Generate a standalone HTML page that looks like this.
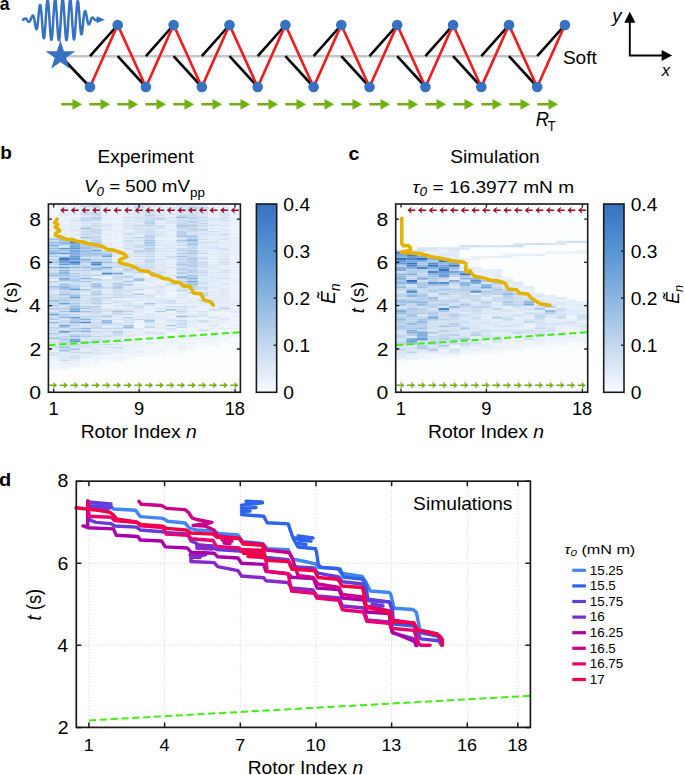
<!DOCTYPE html>
<html><head><meta charset="utf-8"><style>
html,body{margin:0;padding:0;background:#fff;}
svg{display:block;font-family:"Liberation Sans", sans-serif;}
</style></head><body>
<svg width="685" height="775" viewBox="0 0 685 775">
<defs><linearGradient id="cb" x1="0" y1="1" x2="0" y2="0">
<stop offset="0" stop-color="#f7fbff"/><stop offset="0.25" stop-color="#c4d8ee"/><stop offset="0.5" stop-color="#8ab6e0"/><stop offset="0.75" stop-color="#5894d2"/><stop offset="1" stop-color="#3771c2"/>
</linearGradient></defs>
<g transform="translate(-0.29,10.12) scale(0.8837,0.9273)"><text font-size="20" font-weight="bold">a</text></g>
<path d="M23.00,19.72 L23.19,19.66 L23.37,19.59 L23.56,19.49 L23.74,19.38 L23.93,19.26 L24.11,19.13 L24.30,19.00 L24.48,18.87 L24.67,18.76 L24.85,18.66 L25.04,18.59 L25.23,18.54 L25.41,18.53 L25.60,18.55 L25.78,18.61 L25.97,18.71 L26.15,18.87 L26.34,19.06 L26.52,19.28 L26.71,19.52 L26.89,19.78 L27.08,20.06 L27.27,20.33 L27.45,20.61 L27.64,20.88 L27.82,21.13 L28.01,21.36 L28.19,21.55 L28.38,21.71 L28.56,21.82 L28.75,21.89 L28.93,21.90 L29.12,21.86 L29.31,21.76 L29.49,21.61 L29.68,21.40 L29.86,21.14 L30.05,20.84 L30.23,20.52 L30.42,20.14 L30.60,19.72 L30.79,19.27 L30.97,18.80 L31.16,18.31 L31.35,17.84 L31.53,17.38 L31.72,16.95 L31.90,16.57 L32.09,16.24 L32.27,15.99 L32.46,15.83 L32.64,15.62 L32.83,15.49 L33.02,15.48 L33.20,15.60 L33.39,15.87 L33.57,16.28 L33.76,16.84 L33.94,17.54 L34.13,18.36 L34.31,19.30 L34.50,20.33 L34.68,21.42 L34.87,22.55 L35.06,23.69 L35.24,24.81 L35.43,25.87 L35.61,26.83 L35.80,27.67 L35.98,28.35 L36.17,28.85 L36.35,29.14 L36.54,29.20 L36.72,29.02 L36.91,28.58 L37.10,27.89 L37.28,26.95 L37.47,25.78 L37.65,24.39 L37.84,22.82 L38.02,21.09 L38.21,19.24 L38.39,17.32 L38.58,15.37 L38.76,13.45 L38.95,11.60 L39.14,9.88 L39.32,8.33 L39.51,7.01 L39.69,5.95 L39.88,5.25 L40.06,4.89 L40.25,4.88 L40.43,5.23 L40.62,5.95 L40.80,7.03 L40.99,8.44 L41.18,10.17 L41.36,12.18 L41.55,14.42 L41.73,16.85 L41.92,19.42 L42.10,22.05 L42.29,24.69 L42.47,27.28 L42.66,29.75 L42.84,32.03 L43.03,34.07 L43.22,35.79 L43.40,37.02 L43.59,37.84 L43.77,38.24 L43.96,38.20 L44.14,37.71 L44.33,36.79 L44.51,35.46 L44.70,33.75 L44.88,31.69 L45.07,29.34 L45.26,26.74 L45.44,23.96 L45.63,21.06 L45.81,18.12 L46.00,15.20 L46.18,12.37 L46.37,9.70 L46.55,7.25 L46.74,5.09 L46.92,3.26 L47.11,1.82 L47.30,0.81 L47.48,0.26 L47.67,0.17 L47.85,0.54 L48.04,1.38 L48.22,2.65 L48.41,4.33 L48.59,6.38 L48.78,8.75 L48.96,11.39 L49.15,14.23 L49.34,17.21 L49.52,20.26 L49.71,23.30 L49.89,26.26 L50.08,29.08 L50.26,31.67 L50.45,33.99 L50.63,35.98 L50.82,37.58 L51.01,38.76 L51.19,39.49 L51.38,39.75 L51.56,39.53 L51.75,38.84 L51.93,37.69 L52.12,36.11 L52.30,34.14 L52.49,31.82 L52.67,29.20 L52.86,26.36 L53.05,23.34 L53.23,20.24 L53.42,17.11 L53.60,14.04 L53.79,11.10 L53.97,8.35 L54.16,5.87 L54.34,3.71 L54.53,1.93 L54.71,0.57 L54.90,-0.34 L55.09,-0.77 L55.27,-0.70 L55.46,-0.14 L55.64,0.89 L55.83,2.37 L56.01,4.26 L56.20,6.51 L56.38,9.08 L56.57,11.91 L56.75,14.91 L56.94,18.04 L57.13,21.20 L57.31,24.32 L57.50,27.34 L57.68,30.17 L57.87,32.76 L58.05,35.03 L58.24,36.94 L58.42,38.44 L58.61,39.50 L58.79,40.08 L58.98,40.18 L59.17,39.79 L59.35,38.93 L59.54,37.60 L59.72,35.86 L59.91,33.72 L60.09,31.26 L60.28,28.52 L60.46,25.57 L60.65,22.48 L60.83,19.32 L61.02,16.18 L61.21,13.11 L61.39,10.21 L61.58,7.53 L61.76,5.14 L61.95,3.09 L62.13,1.44 L62.32,0.23 L62.50,-0.53 L62.69,-0.80 L62.87,-0.58 L63.06,0.11 L63.25,1.28 L63.43,2.88 L63.62,4.88 L63.80,7.23 L63.99,9.88 L64.17,12.77 L64.36,15.82 L64.54,18.96 L64.73,22.11 L64.91,25.21 L65.10,28.18 L65.29,30.95 L65.47,33.45 L65.66,35.63 L65.84,37.42 L66.03,38.80 L66.21,39.71 L66.40,40.16 L66.58,40.12 L66.77,39.59 L66.95,38.59 L67.14,37.14 L67.33,35.27 L67.51,33.04 L67.70,30.49 L67.88,27.68 L68.07,24.68 L68.25,21.56 L68.44,18.40 L68.62,15.27 L68.81,12.25 L68.99,9.40 L69.18,6.80 L69.37,4.50 L69.55,2.57 L69.74,1.04 L69.92,-0.04 L70.11,-0.64 L70.29,-0.73 L70.48,-0.34 L70.66,0.53 L70.85,1.85 L71.04,3.59 L71.22,5.70 L71.41,8.14 L71.59,10.84 L71.78,13.75 L71.96,16.78 L72.15,19.87 L72.33,22.95 L72.52,25.94 L72.70,28.77 L72.89,31.37 L73.08,33.69 L73.26,35.67 L73.45,37.26 L73.63,38.42 L73.82,39.14 L74.00,39.40 L74.19,39.18 L74.37,38.51 L74.56,37.39 L74.74,35.85 L74.93,33.94 L75.12,31.69 L75.30,29.16 L75.49,26.42 L75.67,23.54 L75.86,20.59 L76.04,17.63 L76.23,14.73 L76.41,11.97 L76.60,9.42 L76.78,7.11 L76.97,5.13 L77.16,3.50 L77.34,2.26 L77.53,1.44 L77.71,1.06 L77.90,1.13 L78.08,1.71 L78.27,2.78 L78.45,4.24 L78.64,6.03 L78.82,8.10 L79.01,10.39 L79.20,12.85 L79.38,15.41 L79.57,18.01 L79.75,20.59 L79.94,23.07 L80.12,25.41 L80.31,27.55 L80.49,29.45 L80.68,31.06 L80.86,32.36 L81.05,33.32 L81.24,33.92 L81.42,34.17 L81.61,34.03 L81.79,33.51 L81.98,32.68 L82.16,31.57 L82.35,30.23 L82.53,28.68 L82.72,26.99 L82.90,25.20 L83.09,23.36 L83.28,21.51 L83.46,19.71 L83.65,18.00 L83.83,16.43 L84.02,15.01 L84.20,13.79 L84.39,12.78 L84.57,12.00 L84.76,11.45 L84.94,11.15 L85.13,11.08 L85.32,11.22 L85.50,11.48 L85.69,11.92 L85.87,12.54 L86.06,13.30 L86.24,14.17 L86.43,15.14 L86.61,16.17 L86.80,17.23 L86.98,18.30 L87.17,19.34 L87.36,20.32 L87.54,21.24 L87.73,22.05 L87.91,22.76 L88.10,23.34 L88.28,23.79 L88.47,24.11 L88.65,24.29 L88.84,24.34 L89.03,24.27 L89.21,24.15 L89.40,23.93 L89.58,23.61 L89.77,23.22 L89.95,22.76 L90.14,22.26 L90.32,21.72 L90.51,21.16 L90.69,20.61 L90.88,20.07 L91.07,19.56 L91.25,19.09 L91.44,18.67 L91.62,18.32 L91.81,18.02 L91.99,17.80 L92.18,17.65 L92.36,17.57 L92.55,17.56 L92.73,17.61 L92.92,17.71 L93.11,17.83 L93.29,17.98 L93.48,18.17 L93.66,18.38 L93.85,18.61 L94.03,18.84 L94.22,19.07 L94.40,19.30 L94.59,19.50 L94.77,19.69 L94.96,19.85 L95.15,19.98 L95.33,20.09 L95.52,20.17 L95.70,20.22 L95.89,20.25 L96.07,20.25 L96.26,20.23 L96.44,20.19 L96.63,20.13 L96.81,20.06 L97.00,19.99" fill="none" stroke="#3771c2" stroke-width="2.5" stroke-linejoin="round" stroke-linecap="round"/>
<path d="M96,19.7 L97,16.3 L104.9,19.7 L97,23.1 Z" fill="#3771c2"/>
<line x1="62" y1="56.2" x2="537" y2="56.2" stroke="#c6c6c6" stroke-width="2.4"/>
<line x1="60.40" y1="56" x2="90.00" y2="87" stroke="#000" stroke-width="2.6"/>
<line x1="90.00" y1="56.2" x2="117.70" y2="25" stroke="#000" stroke-width="2.6"/>
<line x1="117.70" y1="56.2" x2="146.00" y2="87" stroke="#000" stroke-width="2.6"/>
<line x1="145.90" y1="56.2" x2="173.60" y2="25" stroke="#000" stroke-width="2.6"/>
<line x1="173.60" y1="56.2" x2="201.90" y2="87" stroke="#000" stroke-width="2.6"/>
<line x1="201.80" y1="56.2" x2="229.50" y2="25" stroke="#000" stroke-width="2.6"/>
<line x1="229.50" y1="56.2" x2="257.80" y2="87" stroke="#000" stroke-width="2.6"/>
<line x1="257.70" y1="56.2" x2="285.40" y2="25" stroke="#000" stroke-width="2.6"/>
<line x1="285.40" y1="56.2" x2="313.70" y2="87" stroke="#000" stroke-width="2.6"/>
<line x1="313.60" y1="56.2" x2="341.30" y2="25" stroke="#000" stroke-width="2.6"/>
<line x1="341.30" y1="56.2" x2="369.60" y2="87" stroke="#000" stroke-width="2.6"/>
<line x1="369.50" y1="56.2" x2="397.20" y2="25" stroke="#000" stroke-width="2.6"/>
<line x1="397.20" y1="56.2" x2="425.50" y2="87" stroke="#000" stroke-width="2.6"/>
<line x1="425.40" y1="56.2" x2="453.10" y2="25" stroke="#000" stroke-width="2.6"/>
<line x1="453.10" y1="56.2" x2="481.40" y2="87" stroke="#000" stroke-width="2.6"/>
<line x1="481.30" y1="56.2" x2="509.00" y2="25" stroke="#000" stroke-width="2.6"/>
<line x1="509.00" y1="56.2" x2="537.30" y2="87" stroke="#000" stroke-width="2.6"/>
<line x1="537.20" y1="56.2" x2="564.90" y2="25" stroke="#000" stroke-width="2.6"/>
<path d="M90.00,87 L117.70,25 L145.90,87 L173.60,25 L201.80,87 L229.50,25 L257.70,87 L285.40,25 L313.60,87 L341.30,25 L369.50,87 L397.20,25 L425.40,87 L453.10,25 L481.30,87 L509.00,25 L537.20,87 L564.90,25" fill="none" stroke="#ee1c1c" stroke-width="2.6" stroke-linejoin="miter"/>
<circle cx="90.00" cy="87" r="5.3" fill="#3771c2"/>
<circle cx="117.70" cy="25" r="5.3" fill="#3771c2"/>
<circle cx="145.90" cy="87" r="5.3" fill="#3771c2"/>
<circle cx="173.60" cy="25" r="5.3" fill="#3771c2"/>
<circle cx="201.80" cy="87" r="5.3" fill="#3771c2"/>
<circle cx="229.50" cy="25" r="5.3" fill="#3771c2"/>
<circle cx="257.70" cy="87" r="5.3" fill="#3771c2"/>
<circle cx="285.40" cy="25" r="5.3" fill="#3771c2"/>
<circle cx="313.60" cy="87" r="5.3" fill="#3771c2"/>
<circle cx="341.30" cy="25" r="5.3" fill="#3771c2"/>
<circle cx="369.50" cy="87" r="5.3" fill="#3771c2"/>
<circle cx="397.20" cy="25" r="5.3" fill="#3771c2"/>
<circle cx="425.40" cy="87" r="5.3" fill="#3771c2"/>
<circle cx="453.10" cy="25" r="5.3" fill="#3771c2"/>
<circle cx="481.30" cy="87" r="5.3" fill="#3771c2"/>
<circle cx="509.00" cy="25" r="5.3" fill="#3771c2"/>
<circle cx="537.20" cy="87" r="5.3" fill="#3771c2"/>
<circle cx="564.90" cy="25" r="5.3" fill="#3771c2"/>
<polygon points="60.40,40.30 63.93,51.15 75.33,51.15 66.11,57.85 69.63,68.70 60.40,62.00 51.17,68.70 54.69,57.85 45.47,51.15 56.87,51.15" fill="#3771c2"/>
<path d="M61.3,103.0 H72.5 V98.9 L82.1,104.3 L72.5,109.7 V105.6 H61.3 Z" fill="#73af14"/>
<path d="M89.3,103.0 H100.5 V98.9 L110.1,104.3 L100.5,109.7 V105.6 H89.3 Z" fill="#73af14"/>
<path d="M117.3,103.0 H128.5 V98.9 L138.1,104.3 L128.5,109.7 V105.6 H117.3 Z" fill="#73af14"/>
<path d="M145.3,103.0 H156.5 V98.9 L166.1,104.3 L156.5,109.7 V105.6 H145.3 Z" fill="#73af14"/>
<path d="M173.3,103.0 H184.5 V98.9 L194.1,104.3 L184.5,109.7 V105.6 H173.3 Z" fill="#73af14"/>
<path d="M201.3,103.0 H212.5 V98.9 L222.1,104.3 L212.5,109.7 V105.6 H201.3 Z" fill="#73af14"/>
<path d="M229.3,103.0 H240.5 V98.9 L250.1,104.3 L240.5,109.7 V105.6 H229.3 Z" fill="#73af14"/>
<path d="M257.3,103.0 H268.5 V98.9 L278.1,104.3 L268.5,109.7 V105.6 H257.3 Z" fill="#73af14"/>
<path d="M285.3,103.0 H296.5 V98.9 L306.1,104.3 L296.5,109.7 V105.6 H285.3 Z" fill="#73af14"/>
<path d="M313.3,103.0 H324.5 V98.9 L334.1,104.3 L324.5,109.7 V105.6 H313.3 Z" fill="#73af14"/>
<path d="M341.3,103.0 H352.5 V98.9 L362.1,104.3 L352.5,109.7 V105.6 H341.3 Z" fill="#73af14"/>
<path d="M369.3,103.0 H380.5 V98.9 L390.1,104.3 L380.5,109.7 V105.6 H369.3 Z" fill="#73af14"/>
<path d="M397.3,103.0 H408.5 V98.9 L418.1,104.3 L408.5,109.7 V105.6 H397.3 Z" fill="#73af14"/>
<path d="M425.3,103.0 H436.5 V98.9 L446.1,104.3 L436.5,109.7 V105.6 H425.3 Z" fill="#73af14"/>
<path d="M453.3,103.0 H464.5 V98.9 L474.1,104.3 L464.5,109.7 V105.6 H453.3 Z" fill="#73af14"/>
<path d="M481.3,103.0 H492.5 V98.9 L502.1,104.3 L492.5,109.7 V105.6 H481.3 Z" fill="#73af14"/>
<path d="M509.3,103.0 H520.5 V98.9 L530.1,104.3 L520.5,109.7 V105.6 H509.3 Z" fill="#73af14"/>
<path d="M537.3,103.0 H548.5 V98.9 L558.1,104.3 L548.5,109.7 V105.6 H537.3 Z" fill="#73af14"/>
<g transform="translate(562.92,63.50) scale(1.0299,1.0000)"><text font-size="18.5" >Soft</text></g>
<g transform="translate(535.76,126.08) scale(0.9846,1.0765)"><text font-size="18.5" font-style="italic">R</text><text x="12.3" y="4.2" font-size="13">T</text></g>
<g transform="translate(612.13,22.28) scale(0.9778,0.9929)"><text font-size="19" font-style="italic">y</text></g>
<g transform="translate(661.82,76.45) scale(0.9300,0.9684)"><text font-size="18" font-style="italic">x</text></g>
<path d="M629.8,56.4 V21 M628.9,55.5 H663" stroke="#000" stroke-width="1.9" fill="none"/>
<path d="M624.3,22.8 L629.8,11.8 L635.4,22.8 Z" fill="#000"/><path d="M661.6,50 L672.2,55.5 L661.6,61 Z" fill="#000"/>
<g transform="translate(0.13,159.32) scale(0.9744,0.9333)"><text font-size="19.5" font-weight="bold">b</text></g>
<g transform="translate(97.61,163.22) scale(1.0272,0.9941)"><text font-size="18.5" >Experiment</text></g>
<g transform="translate(83.94,192.30) scale(1.0736,0.9922)"><text font-size="17.5"><tspan font-style="italic">V</tspan><tspan font-style="italic" font-size="12.5" dy="3.3">0</tspan><tspan dy="-3.3"> = 500 mV</tspan><tspan font-size="12.5" dy="4.5">pp</tspan></text></g>
<rect x="48.4" y="204" width="192.0" height="188.3" fill="#fcfdff"/>
<path d="M48.4 368.76h10.67v1.57h-10.67zM48.4 235.34h10.67v1.57h-10.67zM48.4 210.22h10.67v1.57h-10.67zM48.4 207.08h10.67v1.57h-10.67zM80.4 364.05h10.67v1.57h-10.67zM112.4 359.34h10.67v1.57h-10.67zM155.1 351.49h10.67v1.57h-10.67zM165.7 338.93h10.67v1.57h-10.67zM187.1 345.21h10.67v1.57h-10.67zM187.1 334.22h10.67v1.57h-10.67zM197.7 342.07h10.67v1.57h-10.67zM208.4 345.21h10.67v1.57h-10.67zM208.4 343.64h10.67v1.57h-10.67zM229.7 335.79h10.67v1.57h-10.67zM229.7 332.65h10.67v1.57h-10.67z" fill="#f3f6fc"/>
<path d="M48.4 367.19h10.67v1.57h-10.67zM48.4 364.05h10.67v1.57h-10.67zM48.4 360.91h10.67v1.57h-10.67zM48.4 349.92h10.67v1.57h-10.67zM48.4 230.63h10.67v1.57h-10.67zM48.4 224.35h10.67v1.57h-10.67zM48.4 222.78h10.67v1.57h-10.67zM48.4 218.07h10.67v1.57h-10.67zM48.4 216.50h10.67v1.57h-10.67zM59.1 365.62h10.67v1.57h-10.67zM59.1 210.22h10.67v1.57h-10.67zM59.1 204.00h10.67v1.51h-10.67zM69.7 365.62h10.67v1.57h-10.67zM69.7 364.05h10.67v1.57h-10.67zM69.7 211.79h10.67v1.57h-10.67zM69.7 210.22h10.67v1.57h-10.67zM69.7 204.00h10.67v1.51h-10.67zM80.4 360.91h10.67v1.57h-10.67zM91.1 357.77h10.67v1.57h-10.67zM101.7 357.77h10.67v1.57h-10.67zM101.7 230.63h10.67v1.57h-10.67zM101.7 210.22h10.67v1.57h-10.67zM112.4 357.77h10.67v1.57h-10.67zM112.4 235.34h10.67v1.57h-10.67zM112.4 233.77h10.67v1.57h-10.67zM112.4 227.49h10.67v1.57h-10.67zM112.4 207.08h10.67v1.57h-10.67zM112.4 204.00h10.67v1.51h-10.67zM123.1 357.77h10.67v1.57h-10.67zM123.1 353.06h10.67v1.57h-10.67zM123.1 349.92h10.67v1.57h-10.67zM123.1 298.12h10.67v1.57h-10.67zM133.7 346.78h10.67v1.57h-10.67zM133.7 324.81h10.67v1.57h-10.67zM133.7 321.67h10.67v1.57h-10.67zM144.4 353.06h10.67v1.57h-10.67zM144.4 343.64h10.67v1.57h-10.67zM144.4 340.50h10.67v1.57h-10.67zM144.4 290.27h10.67v1.57h-10.67zM144.4 274.58h10.67v1.57h-10.67zM155.1 348.35h10.67v1.57h-10.67zM155.1 335.79h10.67v1.57h-10.67zM155.1 334.22h10.67v1.57h-10.67zM155.1 329.51h10.67v1.57h-10.67zM155.1 282.43h10.67v1.57h-10.67zM155.1 280.86h10.67v1.57h-10.67zM155.1 279.29h10.67v1.57h-10.67zM165.7 345.21h10.67v1.57h-10.67zM165.7 337.36h10.67v1.57h-10.67zM165.7 334.22h10.67v1.57h-10.67zM165.7 323.24h10.67v1.57h-10.67zM165.7 315.39h10.67v1.57h-10.67zM165.7 296.55h10.67v1.57h-10.67zM176.4 343.64h10.67v1.57h-10.67zM176.4 342.07h10.67v1.57h-10.67zM176.4 337.36h10.67v1.57h-10.67zM187.1 346.78h10.67v1.57h-10.67zM187.1 338.93h10.67v1.57h-10.67zM187.1 332.65h10.67v1.57h-10.67zM187.1 331.08h10.67v1.57h-10.67zM187.1 329.51h10.67v1.57h-10.67zM197.7 335.79h10.67v1.57h-10.67zM197.7 331.08h10.67v1.57h-10.67zM197.7 327.95h10.67v1.57h-10.67zM197.7 305.97h10.67v1.57h-10.67zM197.7 304.40h10.67v1.57h-10.67zM208.4 337.36h10.67v1.57h-10.67zM208.4 326.38h10.67v1.57h-10.67zM208.4 313.82h10.67v1.57h-10.67zM208.4 304.40h10.67v1.57h-10.67zM208.4 288.70h10.67v1.57h-10.67zM219.1 334.22h10.67v1.57h-10.67zM219.1 331.08h10.67v1.57h-10.67zM219.1 315.39h10.67v1.57h-10.67zM229.7 329.51h10.67v1.57h-10.67zM229.7 320.10h10.67v1.57h-10.67zM229.7 318.53h10.67v1.57h-10.67zM229.7 307.54h10.67v1.57h-10.67zM229.7 282.43h10.67v1.57h-10.67zM229.7 268.30h10.67v1.57h-10.67zM229.7 265.16h10.67v1.57h-10.67zM229.7 258.88h10.67v1.57h-10.67zM229.7 257.31h10.67v1.57h-10.67zM229.7 251.03h10.67v1.57h-10.67zM229.7 229.06h10.67v1.57h-10.67zM229.7 224.35h10.67v1.57h-10.67zM229.7 221.21h10.67v1.57h-10.67zM229.7 214.93h10.67v1.57h-10.67zM229.7 213.36h10.67v1.57h-10.67zM229.7 210.22h10.67v1.57h-10.67zM229.7 208.65h10.67v1.57h-10.67zM229.7 207.08h10.67v1.57h-10.67zM229.7 204.00h10.67v1.51h-10.67z" fill="#edf3fc"/>
<path d="M48.4 365.62h10.67v1.57h-10.67zM48.4 362.48h10.67v1.57h-10.67zM48.4 233.77h10.67v1.57h-10.67zM48.4 232.20h10.67v1.57h-10.67zM48.4 227.49h10.67v1.57h-10.67zM48.4 225.92h10.67v1.57h-10.67zM48.4 221.21h10.67v1.57h-10.67zM48.4 219.64h10.67v1.57h-10.67zM48.4 214.93h10.67v1.57h-10.67zM48.4 213.36h10.67v1.57h-10.67zM48.4 211.79h10.67v1.57h-10.67zM48.4 208.65h10.67v1.57h-10.67zM48.4 204.00h10.67v1.51h-10.67zM80.4 362.48h10.67v1.57h-10.67zM80.4 359.34h10.67v1.57h-10.67zM80.4 357.77h10.67v1.57h-10.67zM101.7 356.20h10.67v1.57h-10.67zM101.7 354.63h10.67v1.57h-10.67zM112.4 354.63h10.67v1.57h-10.67zM123.1 354.63h10.67v1.57h-10.67zM133.7 353.06h10.67v1.57h-10.67zM133.7 348.35h10.67v1.57h-10.67zM133.7 338.93h10.67v1.57h-10.67zM133.7 335.79h10.67v1.57h-10.67zM144.4 351.49h10.67v1.57h-10.67zM144.4 349.92h10.67v1.57h-10.67zM144.4 348.35h10.67v1.57h-10.67zM144.4 346.78h10.67v1.57h-10.67zM144.4 338.93h10.67v1.57h-10.67zM144.4 335.79h10.67v1.57h-10.67zM155.1 349.92h10.67v1.57h-10.67zM155.1 343.64h10.67v1.57h-10.67zM155.1 342.07h10.67v1.57h-10.67zM155.1 340.50h10.67v1.57h-10.67zM165.7 346.78h10.67v1.57h-10.67zM165.7 343.64h10.67v1.57h-10.67zM165.7 332.65h10.67v1.57h-10.67zM165.7 326.38h10.67v1.57h-10.67zM165.7 310.68h10.67v1.57h-10.67zM165.7 293.41h10.67v1.57h-10.67zM165.7 210.22h10.67v1.57h-10.67zM176.4 340.50h10.67v1.57h-10.67zM187.1 343.64h10.67v1.57h-10.67zM187.1 340.50h10.67v1.57h-10.67zM197.7 343.64h10.67v1.57h-10.67zM197.7 332.65h10.67v1.57h-10.67zM208.4 342.07h10.67v1.57h-10.67zM208.4 340.50h10.67v1.57h-10.67zM219.1 340.50h10.67v1.57h-10.67zM219.1 337.36h10.67v1.57h-10.67zM219.1 332.65h10.67v1.57h-10.67zM219.1 329.51h10.67v1.57h-10.67zM219.1 324.81h10.67v1.57h-10.67zM219.1 312.25h10.67v1.57h-10.67zM229.7 342.07h10.67v1.57h-10.67zM229.7 331.08h10.67v1.57h-10.67zM229.7 326.38h10.67v1.57h-10.67zM229.7 316.96h10.67v1.57h-10.67zM229.7 313.82h10.67v1.57h-10.67zM229.7 285.57h10.67v1.57h-10.67zM229.7 235.34h10.67v1.57h-10.67zM229.7 227.49h10.67v1.57h-10.67zM229.7 211.79h10.67v1.57h-10.67zM229.7 205.51h10.67v1.57h-10.67z" fill="#f0f6fc"/>
<path d="M48.4 359.34h10.67v1.57h-10.67zM48.4 205.51h10.67v1.57h-10.67zM91.1 360.91h10.67v1.57h-10.67zM91.1 359.34h10.67v1.57h-10.67zM155.1 346.78h10.67v1.57h-10.67zM165.7 291.84h10.67v1.57h-10.67zM176.4 348.35h10.67v1.57h-10.67zM176.4 338.93h10.67v1.57h-10.67zM197.7 316.96h10.67v1.57h-10.67zM219.1 335.79h10.67v1.57h-10.67zM229.7 321.67h10.67v1.57h-10.67zM229.7 294.98h10.67v1.57h-10.67z" fill="#edf6fc"/>
<path d="M48.4 357.77h10.67v1.57h-10.67zM59.1 229.06h10.67v1.57h-10.67zM59.1 225.92h10.67v1.57h-10.67zM59.1 214.93h10.67v1.57h-10.67zM59.1 213.36h10.67v1.57h-10.67zM69.7 359.34h10.67v1.57h-10.67zM69.7 353.06h10.67v1.57h-10.67zM69.7 225.92h10.67v1.57h-10.67zM69.7 222.78h10.67v1.57h-10.67zM69.7 216.50h10.67v1.57h-10.67zM69.7 208.65h10.67v1.57h-10.67zM80.4 313.82h10.67v1.57h-10.67zM101.7 349.92h10.67v1.57h-10.67zM101.7 345.21h10.67v1.57h-10.67zM101.7 332.65h10.67v1.57h-10.67zM101.7 312.25h10.67v1.57h-10.67zM101.7 288.70h10.67v1.57h-10.67zM101.7 276.15h10.67v1.57h-10.67zM101.7 222.78h10.67v1.57h-10.67zM101.7 214.93h10.67v1.57h-10.67zM112.4 349.92h10.67v1.57h-10.67zM112.4 348.35h10.67v1.57h-10.67zM112.4 302.83h10.67v1.57h-10.67zM112.4 254.17h10.67v1.57h-10.67zM123.1 340.50h10.67v1.57h-10.67zM123.1 307.54h10.67v1.57h-10.67zM123.1 282.43h10.67v1.57h-10.67zM123.1 273.01h10.67v1.57h-10.67zM123.1 262.02h10.67v1.57h-10.67zM123.1 238.48h10.67v1.57h-10.67zM133.7 329.51h10.67v1.57h-10.67zM133.7 310.68h10.67v1.57h-10.67zM133.7 298.12h10.67v1.57h-10.67zM133.7 274.58h10.67v1.57h-10.67zM144.4 276.15h10.67v1.57h-10.67zM155.1 327.95h10.67v1.57h-10.67zM155.1 318.53h10.67v1.57h-10.67zM155.1 313.82h10.67v1.57h-10.67zM155.1 298.12h10.67v1.57h-10.67zM155.1 236.91h10.67v1.57h-10.67zM155.1 205.51h10.67v1.57h-10.67zM165.7 276.15h10.67v1.57h-10.67zM165.7 271.44h10.67v1.57h-10.67zM165.7 249.46h10.67v1.57h-10.67zM165.7 240.05h10.67v1.57h-10.67zM165.7 236.91h10.67v1.57h-10.67zM165.7 218.07h10.67v1.57h-10.67zM176.4 318.53h10.67v1.57h-10.67zM187.1 335.79h10.67v1.57h-10.67zM187.1 310.68h10.67v1.57h-10.67zM197.7 204.00h10.67v1.51h-10.67zM208.4 327.95h10.67v1.57h-10.67zM208.4 291.84h10.67v1.57h-10.67zM208.4 269.87h10.67v1.57h-10.67zM208.4 268.30h10.67v1.57h-10.67zM208.4 266.73h10.67v1.57h-10.67zM208.4 254.17h10.67v1.57h-10.67zM208.4 251.03h10.67v1.57h-10.67zM208.4 243.19h10.67v1.57h-10.67zM208.4 238.48h10.67v1.57h-10.67zM208.4 232.20h10.67v1.57h-10.67zM208.4 221.21h10.67v1.57h-10.67zM219.1 302.83h10.67v1.57h-10.67zM219.1 298.12h10.67v1.57h-10.67zM219.1 291.84h10.67v1.57h-10.67zM219.1 284.00h10.67v1.57h-10.67zM219.1 241.62h10.67v1.57h-10.67zM219.1 230.63h10.67v1.57h-10.67zM219.1 225.92h10.67v1.57h-10.67zM229.7 266.73h10.67v1.57h-10.67zM229.7 243.19h10.67v1.57h-10.67zM229.7 219.64h10.67v1.57h-10.67z" fill="#e1edf6"/>
<path d="M48.4 356.20h10.67v1.57h-10.67zM59.1 360.91h10.67v1.57h-10.67zM59.1 232.20h10.67v1.57h-10.67zM59.1 224.35h10.67v1.57h-10.67zM59.1 221.21h10.67v1.57h-10.67zM59.1 207.08h10.67v1.57h-10.67zM59.1 205.51h10.67v1.57h-10.67zM69.7 362.48h10.67v1.57h-10.67zM112.4 260.45h10.67v1.57h-10.67zM112.4 249.46h10.67v1.57h-10.67zM112.4 243.19h10.67v1.57h-10.67zM112.4 236.91h10.67v1.57h-10.67zM112.4 225.92h10.67v1.57h-10.67zM112.4 216.50h10.67v1.57h-10.67zM123.1 346.78h10.67v1.57h-10.67zM123.1 214.93h10.67v1.57h-10.67zM133.7 349.92h10.67v1.57h-10.67zM133.7 343.64h10.67v1.57h-10.67zM133.7 323.24h10.67v1.57h-10.67zM144.4 273.01h10.67v1.57h-10.67zM155.1 338.93h10.67v1.57h-10.67zM155.1 331.08h10.67v1.57h-10.67zM155.1 324.81h10.67v1.57h-10.67zM155.1 315.39h10.67v1.57h-10.67zM155.1 309.11h10.67v1.57h-10.67zM155.1 296.55h10.67v1.57h-10.67zM155.1 208.65h10.67v1.57h-10.67zM165.7 340.50h10.67v1.57h-10.67zM165.7 331.08h10.67v1.57h-10.67zM165.7 312.25h10.67v1.57h-10.67zM165.7 205.51h10.67v1.57h-10.67zM176.4 334.22h10.67v1.57h-10.67zM176.4 313.82h10.67v1.57h-10.67zM187.1 342.07h10.67v1.57h-10.67zM187.1 337.36h10.67v1.57h-10.67zM187.1 323.24h10.67v1.57h-10.67zM187.1 309.11h10.67v1.57h-10.67zM187.1 304.40h10.67v1.57h-10.67zM187.1 294.98h10.67v1.57h-10.67zM197.7 337.36h10.67v1.57h-10.67zM197.7 318.53h10.67v1.57h-10.67zM197.7 301.26h10.67v1.57h-10.67zM197.7 296.55h10.67v1.57h-10.67zM208.4 315.39h10.67v1.57h-10.67zM208.4 310.68h10.67v1.57h-10.67zM208.4 213.36h10.67v1.57h-10.67zM208.4 207.08h10.67v1.57h-10.67zM219.1 240.05h10.67v1.57h-10.67zM219.1 204.00h10.67v1.51h-10.67zM229.7 309.11h10.67v1.57h-10.67zM229.7 291.84h10.67v1.57h-10.67zM229.7 284.00h10.67v1.57h-10.67zM229.7 276.15h10.67v1.57h-10.67zM229.7 254.17h10.67v1.57h-10.67z" fill="#eaf0f9"/>
<path d="M48.4 354.63h10.67v1.57h-10.67zM48.4 353.06h10.67v1.57h-10.67zM48.4 338.93h10.67v1.57h-10.67zM48.4 335.79h10.67v1.57h-10.67zM48.4 282.43h10.67v1.57h-10.67zM59.1 334.22h10.67v1.57h-10.67zM59.1 323.24h10.67v1.57h-10.67zM59.1 280.86h10.67v1.57h-10.67zM59.1 244.76h10.67v1.57h-10.67zM69.7 354.63h10.67v1.57h-10.67zM80.4 343.64h10.67v1.57h-10.67zM80.4 296.55h10.67v1.57h-10.67zM80.4 276.15h10.67v1.57h-10.67zM80.4 271.44h10.67v1.57h-10.67zM80.4 240.05h10.67v1.57h-10.67zM80.4 225.92h10.67v1.57h-10.67zM80.4 222.78h10.67v1.57h-10.67zM91.1 349.92h10.67v1.57h-10.67zM91.1 342.07h10.67v1.57h-10.67zM101.7 346.78h10.67v1.57h-10.67zM101.7 338.93h10.67v1.57h-10.67zM101.7 318.53h10.67v1.57h-10.67zM101.7 285.57h10.67v1.57h-10.67zM112.4 326.38h10.67v1.57h-10.67zM112.4 318.53h10.67v1.57h-10.67zM112.4 252.60h10.67v1.57h-10.67zM123.1 305.97h10.67v1.57h-10.67zM123.1 271.44h10.67v1.57h-10.67zM123.1 266.73h10.67v1.57h-10.67zM123.1 263.59h10.67v1.57h-10.67zM123.1 244.76h10.67v1.57h-10.67zM123.1 236.91h10.67v1.57h-10.67zM123.1 225.92h10.67v1.57h-10.67zM123.1 224.35h10.67v1.57h-10.67zM133.7 315.39h10.67v1.57h-10.67zM133.7 280.86h10.67v1.57h-10.67zM133.7 263.59h10.67v1.57h-10.67zM133.7 232.20h10.67v1.57h-10.67zM133.7 230.63h10.67v1.57h-10.67zM133.7 225.92h10.67v1.57h-10.67zM133.7 211.79h10.67v1.57h-10.67zM144.4 233.77h10.67v1.57h-10.67zM155.1 299.69h10.67v1.57h-10.67zM155.1 251.03h10.67v1.57h-10.67zM155.1 247.89h10.67v1.57h-10.67zM155.1 219.64h10.67v1.57h-10.67zM155.1 216.50h10.67v1.57h-10.67zM165.7 320.10h10.67v1.57h-10.67zM165.7 282.43h10.67v1.57h-10.67zM165.7 279.29h10.67v1.57h-10.67zM176.4 321.67h10.67v1.57h-10.67zM176.4 316.96h10.67v1.57h-10.67zM176.4 307.54h10.67v1.57h-10.67zM176.4 287.14h10.67v1.57h-10.67zM176.4 211.79h10.67v1.57h-10.67zM187.1 305.97h10.67v1.57h-10.67zM197.7 321.67h10.67v1.57h-10.67zM197.7 315.39h10.67v1.57h-10.67zM197.7 310.68h10.67v1.57h-10.67zM197.7 277.72h10.67v1.57h-10.67zM197.7 249.46h10.67v1.57h-10.67zM197.7 243.19h10.67v1.57h-10.67zM197.7 213.36h10.67v1.57h-10.67zM208.4 324.81h10.67v1.57h-10.67zM208.4 280.86h10.67v1.57h-10.67zM219.1 318.53h10.67v1.57h-10.67zM219.1 290.27h10.67v1.57h-10.67zM219.1 277.72h10.67v1.57h-10.67zM219.1 263.59h10.67v1.57h-10.67zM219.1 249.46h10.67v1.57h-10.67zM219.1 238.48h10.67v1.57h-10.67zM219.1 218.07h10.67v1.57h-10.67zM219.1 216.50h10.67v1.57h-10.67zM219.1 208.65h10.67v1.57h-10.67z" fill="#d5e4f3"/>
<path d="M48.4 351.49h10.67v1.57h-10.67zM59.1 356.20h10.67v1.57h-10.67zM69.7 342.07h10.67v1.57h-10.67zM80.4 337.36h10.67v1.57h-10.67zM80.4 221.21h10.67v1.57h-10.67zM80.4 214.93h10.67v1.57h-10.67zM91.1 353.06h10.67v1.57h-10.67zM91.1 320.10h10.67v1.57h-10.67zM91.1 233.77h10.67v1.57h-10.67zM91.1 227.49h10.67v1.57h-10.67zM101.7 313.82h10.67v1.57h-10.67zM101.7 299.69h10.67v1.57h-10.67zM123.1 331.08h10.67v1.57h-10.67zM123.1 309.11h10.67v1.57h-10.67zM123.1 293.41h10.67v1.57h-10.67zM123.1 288.70h10.67v1.57h-10.67zM123.1 241.62h10.67v1.57h-10.67zM123.1 227.49h10.67v1.57h-10.67zM123.1 219.64h10.67v1.57h-10.67zM123.1 213.36h10.67v1.57h-10.67zM133.7 307.54h10.67v1.57h-10.67zM133.7 299.69h10.67v1.57h-10.67zM144.4 331.08h10.67v1.57h-10.67zM144.4 313.82h10.67v1.57h-10.67zM144.4 287.14h10.67v1.57h-10.67zM144.4 227.49h10.67v1.57h-10.67zM155.1 287.14h10.67v1.57h-10.67zM155.1 273.01h10.67v1.57h-10.67zM155.1 241.62h10.67v1.57h-10.67zM155.1 213.36h10.67v1.57h-10.67zM165.7 274.58h10.67v1.57h-10.67zM176.4 279.29h10.67v1.57h-10.67zM176.4 205.51h10.67v1.57h-10.67zM197.7 313.82h10.67v1.57h-10.67zM197.7 285.57h10.67v1.57h-10.67zM197.7 260.45h10.67v1.57h-10.67zM197.7 221.21h10.67v1.57h-10.67zM208.4 276.15h10.67v1.57h-10.67zM208.4 246.32h10.67v1.57h-10.67zM208.4 233.77h10.67v1.57h-10.67zM219.1 282.43h10.67v1.57h-10.67zM219.1 214.93h10.67v1.57h-10.67z" fill="#d8e4f3"/>
<path d="M48.4 348.35h10.67v1.57h-10.67zM48.4 340.50h10.67v1.57h-10.67zM48.4 236.91h10.67v1.57h-10.67zM69.7 349.92h10.67v1.57h-10.67zM69.7 271.44h10.67v1.57h-10.67zM80.4 304.40h10.67v1.57h-10.67zM80.4 293.41h10.67v1.57h-10.67zM80.4 282.43h10.67v1.57h-10.67zM80.4 224.35h10.67v1.57h-10.67zM101.7 280.86h10.67v1.57h-10.67zM101.7 229.06h10.67v1.57h-10.67zM112.4 269.87h10.67v1.57h-10.67zM123.1 320.10h10.67v1.57h-10.67zM123.1 318.53h10.67v1.57h-10.67zM123.1 302.83h10.67v1.57h-10.67zM123.1 291.84h10.67v1.57h-10.67zM123.1 279.29h10.67v1.57h-10.67zM123.1 221.21h10.67v1.57h-10.67zM133.7 258.88h10.67v1.57h-10.67zM133.7 254.17h10.67v1.57h-10.67zM133.7 243.19h10.67v1.57h-10.67zM133.7 219.64h10.67v1.57h-10.67zM133.7 213.36h10.67v1.57h-10.67zM133.7 210.22h10.67v1.57h-10.67zM144.4 296.55h10.67v1.57h-10.67zM144.4 279.29h10.67v1.57h-10.67zM144.4 257.31h10.67v1.57h-10.67zM144.4 205.51h10.67v1.57h-10.67zM155.1 210.22h10.67v1.57h-10.67zM165.7 321.67h10.67v1.57h-10.67zM165.7 318.53h10.67v1.57h-10.67zM165.7 247.89h10.67v1.57h-10.67zM165.7 222.78h10.67v1.57h-10.67zM165.7 219.64h10.67v1.57h-10.67zM176.4 324.81h10.67v1.57h-10.67zM176.4 293.41h10.67v1.57h-10.67zM176.4 274.58h10.67v1.57h-10.67zM197.7 302.83h10.67v1.57h-10.67zM197.7 251.03h10.67v1.57h-10.67zM197.7 218.07h10.67v1.57h-10.67zM197.7 210.22h10.67v1.57h-10.67zM197.7 205.51h10.67v1.57h-10.67zM208.4 218.07h10.67v1.57h-10.67zM219.1 252.60h10.67v1.57h-10.67zM219.1 224.35h10.67v1.57h-10.67zM219.1 213.36h10.67v1.57h-10.67zM219.1 211.79h10.67v1.57h-10.67z" fill="#d8e7f3"/>
<path d="M48.4 346.78h10.67v1.57h-10.67zM48.4 271.44h10.67v1.57h-10.67zM48.4 268.30h10.67v1.57h-10.67zM48.4 263.59h10.67v1.57h-10.67zM59.1 359.34h10.67v1.57h-10.67zM59.1 246.32h10.67v1.57h-10.67zM69.7 268.30h10.67v1.57h-10.67zM80.4 324.81h10.67v1.57h-10.67zM80.4 294.98h10.67v1.57h-10.67zM80.4 235.34h10.67v1.57h-10.67zM80.4 213.36h10.67v1.57h-10.67zM91.1 323.24h10.67v1.57h-10.67zM91.1 321.67h10.67v1.57h-10.67zM91.1 307.54h10.67v1.57h-10.67zM91.1 224.35h10.67v1.57h-10.67zM91.1 214.93h10.67v1.57h-10.67zM101.7 343.64h10.67v1.57h-10.67zM101.7 309.11h10.67v1.57h-10.67zM101.7 293.41h10.67v1.57h-10.67zM101.7 265.16h10.67v1.57h-10.67zM123.1 321.67h10.67v1.57h-10.67zM123.1 304.40h10.67v1.57h-10.67zM123.1 232.20h10.67v1.57h-10.67zM133.7 252.60h10.67v1.57h-10.67zM155.1 332.65h10.67v1.57h-10.67zM155.1 271.44h10.67v1.57h-10.67zM155.1 258.88h10.67v1.57h-10.67zM155.1 233.77h10.67v1.57h-10.67zM176.4 312.25h10.67v1.57h-10.67zM176.4 288.70h10.67v1.57h-10.67zM176.4 218.07h10.67v1.57h-10.67zM187.1 233.77h10.67v1.57h-10.67zM197.7 329.51h10.67v1.57h-10.67zM197.7 320.10h10.67v1.57h-10.67zM197.7 291.84h10.67v1.57h-10.67zM197.7 263.59h10.67v1.57h-10.67zM208.4 316.96h10.67v1.57h-10.67zM219.1 262.02h10.67v1.57h-10.67zM219.1 219.64h10.67v1.57h-10.67z" fill="#ccdef0"/>
<path d="M48.4 345.21h10.67v1.57h-10.67zM48.4 302.83h10.67v1.57h-10.67zM80.4 299.69h10.67v1.57h-10.67zM80.4 290.27h10.67v1.57h-10.67zM80.4 229.06h10.67v1.57h-10.67zM80.4 205.51h10.67v1.57h-10.67zM91.1 324.81h10.67v1.57h-10.67zM91.1 205.51h10.67v1.57h-10.67zM101.7 279.29h10.67v1.57h-10.67zM112.4 277.72h10.67v1.57h-10.67zM112.4 266.73h10.67v1.57h-10.67zM123.1 290.27h10.67v1.57h-10.67zM133.7 266.73h10.67v1.57h-10.67zM144.4 213.36h10.67v1.57h-10.67zM165.7 284.00h10.67v1.57h-10.67zM165.7 255.74h10.67v1.57h-10.67zM176.4 208.65h10.67v1.57h-10.67zM187.1 315.39h10.67v1.57h-10.67zM187.1 214.93h10.67v1.57h-10.67zM197.7 265.16h10.67v1.57h-10.67zM197.7 257.31h10.67v1.57h-10.67zM197.7 211.79h10.67v1.57h-10.67z" fill="#c6dbed"/>
<path d="M48.4 343.64h10.67v1.57h-10.67zM48.4 320.10h10.67v1.57h-10.67zM59.1 357.77h10.67v1.57h-10.67zM59.1 351.49h10.67v1.57h-10.67zM69.7 233.77h10.67v1.57h-10.67zM69.7 230.63h10.67v1.57h-10.67zM69.7 229.06h10.67v1.57h-10.67zM69.7 224.35h10.67v1.57h-10.67zM80.4 348.35h10.67v1.57h-10.67zM91.1 304.40h10.67v1.57h-10.67zM101.7 353.06h10.67v1.57h-10.67zM101.7 337.36h10.67v1.57h-10.67zM101.7 307.54h10.67v1.57h-10.67zM101.7 291.84h10.67v1.57h-10.67zM101.7 227.49h10.67v1.57h-10.67zM112.4 342.07h10.67v1.57h-10.67zM123.1 335.79h10.67v1.57h-10.67zM123.1 299.69h10.67v1.57h-10.67zM123.1 257.31h10.67v1.57h-10.67zM123.1 255.74h10.67v1.57h-10.67zM123.1 251.03h10.67v1.57h-10.67zM123.1 249.46h10.67v1.57h-10.67zM123.1 205.51h10.67v1.57h-10.67zM133.7 309.11h10.67v1.57h-10.67zM133.7 294.98h10.67v1.57h-10.67zM133.7 285.57h10.67v1.57h-10.67zM133.7 269.87h10.67v1.57h-10.67zM133.7 260.45h10.67v1.57h-10.67zM133.7 238.48h10.67v1.57h-10.67zM133.7 208.65h10.67v1.57h-10.67zM144.4 305.97h10.67v1.57h-10.67zM144.4 299.69h10.67v1.57h-10.67zM144.4 298.12h10.67v1.57h-10.67zM155.1 337.36h10.67v1.57h-10.67zM155.1 326.38h10.67v1.57h-10.67zM155.1 288.70h10.67v1.57h-10.67zM155.1 262.02h10.67v1.57h-10.67zM155.1 243.19h10.67v1.57h-10.67zM165.7 233.77h10.67v1.57h-10.67zM176.4 346.78h10.67v1.57h-10.67zM176.4 296.55h10.67v1.57h-10.67zM176.4 284.00h10.67v1.57h-10.67zM187.1 321.67h10.67v1.57h-10.67zM187.1 316.96h10.67v1.57h-10.67zM187.1 298.12h10.67v1.57h-10.67zM197.7 268.30h10.67v1.57h-10.67zM208.4 294.98h10.67v1.57h-10.67zM208.4 279.29h10.67v1.57h-10.67zM208.4 263.59h10.67v1.57h-10.67zM208.4 240.05h10.67v1.57h-10.67zM208.4 236.91h10.67v1.57h-10.67zM208.4 235.34h10.67v1.57h-10.67zM219.1 327.95h10.67v1.57h-10.67zM219.1 288.70h10.67v1.57h-10.67zM219.1 287.14h10.67v1.57h-10.67zM219.1 257.31h10.67v1.57h-10.67zM219.1 235.34h10.67v1.57h-10.67zM219.1 222.78h10.67v1.57h-10.67zM219.1 221.21h10.67v1.57h-10.67zM229.7 236.91h10.67v1.57h-10.67z" fill="#e1eaf6"/>
<path d="M48.4 342.07h10.67v1.57h-10.67zM48.4 294.98h10.67v1.57h-10.67zM48.4 277.72h10.67v1.57h-10.67zM59.1 305.97h10.67v1.57h-10.67zM80.4 302.83h10.67v1.57h-10.67zM80.4 301.26h10.67v1.57h-10.67zM91.1 257.31h10.67v1.57h-10.67zM91.1 235.34h10.67v1.57h-10.67zM101.7 334.22h10.67v1.57h-10.67zM133.7 229.06h10.67v1.57h-10.67zM133.7 216.50h10.67v1.57h-10.67zM144.4 208.65h10.67v1.57h-10.67zM155.1 285.57h10.67v1.57h-10.67zM165.7 327.95h10.67v1.57h-10.67zM165.7 221.21h10.67v1.57h-10.67zM165.7 208.65h10.67v1.57h-10.67zM176.4 254.17h10.67v1.57h-10.67zM176.4 204.00h10.67v1.51h-10.67zM197.7 225.92h10.67v1.57h-10.67zM197.7 224.35h10.67v1.57h-10.67zM208.4 230.63h10.67v1.57h-10.67zM219.1 271.44h10.67v1.57h-10.67zM219.1 247.89h10.67v1.57h-10.67z" fill="#cfe1f0"/>
<path d="M48.4 337.36h10.67v1.57h-10.67zM59.1 310.68h10.67v1.57h-10.67zM59.1 240.05h10.67v1.57h-10.67zM69.7 287.14h10.67v1.57h-10.67zM80.4 307.54h10.67v1.57h-10.67zM80.4 246.32h10.67v1.57h-10.67zM80.4 227.49h10.67v1.57h-10.67zM91.1 279.29h10.67v1.57h-10.67zM91.1 265.16h10.67v1.57h-10.67zM144.4 271.44h10.67v1.57h-10.67zM176.4 255.74h10.67v1.57h-10.67zM176.4 240.05h10.67v1.57h-10.67zM176.4 232.20h10.67v1.57h-10.67z" fill="#9fc3e4"/>
<path d="M48.4 334.22h10.67v1.57h-10.67zM59.1 329.51h10.67v1.57h-10.67zM59.1 320.10h10.67v1.57h-10.67zM69.7 351.49h10.67v1.57h-10.67zM69.7 345.21h10.67v1.57h-10.67zM69.7 315.39h10.67v1.57h-10.67zM69.7 291.84h10.67v1.57h-10.67zM80.4 285.57h10.67v1.57h-10.67zM80.4 233.77h10.67v1.57h-10.67zM80.4 230.63h10.67v1.57h-10.67zM91.1 338.93h10.67v1.57h-10.67zM91.1 309.11h10.67v1.57h-10.67zM91.1 277.72h10.67v1.57h-10.67zM91.1 247.89h10.67v1.57h-10.67zM91.1 211.79h10.67v1.57h-10.67zM112.4 301.26h10.67v1.57h-10.67zM112.4 279.29h10.67v1.57h-10.67zM123.1 327.95h10.67v1.57h-10.67zM123.1 313.82h10.67v1.57h-10.67zM123.1 265.16h10.67v1.57h-10.67zM133.7 207.08h10.67v1.57h-10.67zM144.4 255.74h10.67v1.57h-10.67zM144.4 238.48h10.67v1.57h-10.67zM144.4 236.91h10.67v1.57h-10.67zM144.4 218.07h10.67v1.57h-10.67zM176.4 320.10h10.67v1.57h-10.67zM176.4 269.87h10.67v1.57h-10.67zM176.4 262.02h10.67v1.57h-10.67zM176.4 247.89h10.67v1.57h-10.67zM176.4 219.64h10.67v1.57h-10.67zM176.4 210.22h10.67v1.57h-10.67zM187.1 241.62h10.67v1.57h-10.67zM197.7 282.43h10.67v1.57h-10.67zM197.7 262.02h10.67v1.57h-10.67zM197.7 252.60h10.67v1.57h-10.67zM197.7 219.64h10.67v1.57h-10.67zM219.1 233.77h10.67v1.57h-10.67z" fill="#c6d8ed"/>
<path d="M48.4 332.65h10.67v1.57h-10.67zM48.4 318.53h10.67v1.57h-10.67zM48.4 287.14h10.67v1.57h-10.67zM69.7 320.10h10.67v1.57h-10.67zM80.4 288.70h10.67v1.57h-10.67zM91.1 251.03h10.67v1.57h-10.67zM101.7 271.44h10.67v1.57h-10.67zM176.4 225.92h10.67v1.57h-10.67zM187.1 257.31h10.67v1.57h-10.67z" fill="#a8c6e7"/>
<path d="M48.4 331.08h10.67v1.57h-10.67zM48.4 315.39h10.67v1.57h-10.67zM48.4 298.12h10.67v1.57h-10.67zM48.4 290.27h10.67v1.57h-10.67zM48.4 240.05h10.67v1.57h-10.67zM59.1 304.40h10.67v1.57h-10.67zM59.1 265.16h10.67v1.57h-10.67zM69.7 357.77h10.67v1.57h-10.67zM69.7 356.20h10.67v1.57h-10.67zM69.7 326.38h10.67v1.57h-10.67zM69.7 282.43h10.67v1.57h-10.67zM69.7 219.64h10.67v1.57h-10.67zM80.4 346.78h10.67v1.57h-10.67zM80.4 316.96h10.67v1.57h-10.67zM80.4 298.12h10.67v1.57h-10.67zM80.4 284.00h10.67v1.57h-10.67zM80.4 279.29h10.67v1.57h-10.67zM91.1 343.64h10.67v1.57h-10.67zM91.1 332.65h10.67v1.57h-10.67zM91.1 296.55h10.67v1.57h-10.67zM91.1 208.65h10.67v1.57h-10.67zM101.7 316.96h10.67v1.57h-10.67zM101.7 310.68h10.67v1.57h-10.67zM101.7 298.12h10.67v1.57h-10.67zM101.7 257.31h10.67v1.57h-10.67zM101.7 224.35h10.67v1.57h-10.67zM112.4 309.11h10.67v1.57h-10.67zM112.4 294.98h10.67v1.57h-10.67zM112.4 263.59h10.67v1.57h-10.67zM123.1 334.22h10.67v1.57h-10.67zM123.1 301.26h10.67v1.57h-10.67zM123.1 285.57h10.67v1.57h-10.67zM123.1 274.58h10.67v1.57h-10.67zM123.1 247.89h10.67v1.57h-10.67zM123.1 243.19h10.67v1.57h-10.67zM123.1 216.50h10.67v1.57h-10.67zM133.7 296.55h10.67v1.57h-10.67zM133.7 240.05h10.67v1.57h-10.67zM133.7 221.21h10.67v1.57h-10.67zM133.7 218.07h10.67v1.57h-10.67zM144.4 332.65h10.67v1.57h-10.67zM155.1 307.54h10.67v1.57h-10.67zM155.1 290.27h10.67v1.57h-10.67zM155.1 274.58h10.67v1.57h-10.67zM155.1 244.76h10.67v1.57h-10.67zM155.1 214.93h10.67v1.57h-10.67zM165.7 302.83h10.67v1.57h-10.67zM165.7 266.73h10.67v1.57h-10.67zM165.7 257.31h10.67v1.57h-10.67zM165.7 216.50h10.67v1.57h-10.67zM165.7 213.36h10.67v1.57h-10.67zM176.4 266.73h10.67v1.57h-10.67zM176.4 251.03h10.67v1.57h-10.67zM176.4 243.19h10.67v1.57h-10.67zM176.4 238.48h10.67v1.57h-10.67zM176.4 236.91h10.67v1.57h-10.67zM176.4 213.36h10.67v1.57h-10.67zM176.4 207.08h10.67v1.57h-10.67zM187.1 301.26h10.67v1.57h-10.67zM187.1 266.73h10.67v1.57h-10.67zM187.1 222.78h10.67v1.57h-10.67zM187.1 211.79h10.67v1.57h-10.67zM187.1 205.51h10.67v1.57h-10.67zM197.7 280.86h10.67v1.57h-10.67zM197.7 273.01h10.67v1.57h-10.67zM197.7 232.20h10.67v1.57h-10.67zM208.4 299.69h10.67v1.57h-10.67zM208.4 247.89h10.67v1.57h-10.67zM208.4 224.35h10.67v1.57h-10.67zM219.1 269.87h10.67v1.57h-10.67zM219.1 258.88h10.67v1.57h-10.67z" fill="#d2e1f3"/>
<path d="M48.4 329.51h10.67v1.57h-10.67zM48.4 305.97h10.67v1.57h-10.67zM48.4 288.70h10.67v1.57h-10.67zM48.4 276.15h10.67v1.57h-10.67zM59.1 348.35h10.67v1.57h-10.67zM59.1 332.65h10.67v1.57h-10.67zM59.1 312.25h10.67v1.57h-10.67zM69.7 290.27h10.67v1.57h-10.67zM80.4 345.21h10.67v1.57h-10.67zM80.4 320.10h10.67v1.57h-10.67zM80.4 268.30h10.67v1.57h-10.67zM80.4 232.20h10.67v1.57h-10.67zM91.1 331.08h10.67v1.57h-10.67zM91.1 318.53h10.67v1.57h-10.67zM91.1 294.98h10.67v1.57h-10.67zM91.1 238.48h10.67v1.57h-10.67zM91.1 225.92h10.67v1.57h-10.67zM91.1 219.64h10.67v1.57h-10.67zM91.1 207.08h10.67v1.57h-10.67zM101.7 335.79h10.67v1.57h-10.67zM101.7 302.83h10.67v1.57h-10.67zM101.7 296.55h10.67v1.57h-10.67zM101.7 269.87h10.67v1.57h-10.67zM112.4 346.78h10.67v1.57h-10.67zM112.4 313.82h10.67v1.57h-10.67zM112.4 312.25h10.67v1.57h-10.67zM112.4 293.41h10.67v1.57h-10.67zM123.1 296.55h10.67v1.57h-10.67zM123.1 233.77h10.67v1.57h-10.67zM133.7 265.16h10.67v1.57h-10.67zM133.7 255.74h10.67v1.57h-10.67zM133.7 246.32h10.67v1.57h-10.67zM144.4 318.53h10.67v1.57h-10.67zM144.4 268.30h10.67v1.57h-10.67zM144.4 265.16h10.67v1.57h-10.67zM144.4 246.32h10.67v1.57h-10.67zM144.4 229.06h10.67v1.57h-10.67zM144.4 211.79h10.67v1.57h-10.67zM155.1 225.92h10.67v1.57h-10.67zM165.7 305.97h10.67v1.57h-10.67zM176.4 305.97h10.67v1.57h-10.67zM176.4 260.45h10.67v1.57h-10.67zM176.4 257.31h10.67v1.57h-10.67zM176.4 241.62h10.67v1.57h-10.67zM187.1 255.74h10.67v1.57h-10.67zM187.1 230.63h10.67v1.57h-10.67zM187.1 213.36h10.67v1.57h-10.67zM197.7 294.98h10.67v1.57h-10.67zM197.7 269.87h10.67v1.57h-10.67zM197.7 238.48h10.67v1.57h-10.67zM197.7 233.77h10.67v1.57h-10.67zM208.4 309.11h10.67v1.57h-10.67z" fill="#c9dbf0"/>
<path d="M48.4 327.95h10.67v1.57h-10.67zM48.4 326.38h10.67v1.57h-10.67zM48.4 323.24h10.67v1.57h-10.67zM48.4 316.96h10.67v1.57h-10.67zM48.4 309.11h10.67v1.57h-10.67zM48.4 293.41h10.67v1.57h-10.67zM59.1 340.50h10.67v1.57h-10.67zM59.1 309.11h10.67v1.57h-10.67zM59.1 301.26h10.67v1.57h-10.67zM59.1 294.98h10.67v1.57h-10.67zM59.1 282.43h10.67v1.57h-10.67zM69.7 337.36h10.67v1.57h-10.67zM80.4 340.50h10.67v1.57h-10.67zM91.1 340.50h10.67v1.57h-10.67zM91.1 255.74h10.67v1.57h-10.67zM91.1 230.63h10.67v1.57h-10.67zM91.1 213.36h10.67v1.57h-10.67zM112.4 323.24h10.67v1.57h-10.67zM112.4 265.16h10.67v1.57h-10.67zM123.1 240.05h10.67v1.57h-10.67zM133.7 318.53h10.67v1.57h-10.67zM133.7 288.70h10.67v1.57h-10.67zM133.7 249.46h10.67v1.57h-10.67zM133.7 244.76h10.67v1.57h-10.67zM133.7 224.35h10.67v1.57h-10.67zM144.4 262.02h10.67v1.57h-10.67zM144.4 260.45h10.67v1.57h-10.67zM144.4 258.88h10.67v1.57h-10.67zM144.4 224.35h10.67v1.57h-10.67zM144.4 219.64h10.67v1.57h-10.67zM176.4 326.38h10.67v1.57h-10.67zM176.4 244.76h10.67v1.57h-10.67zM176.4 227.49h10.67v1.57h-10.67zM176.4 222.78h10.67v1.57h-10.67zM176.4 214.93h10.67v1.57h-10.67zM187.1 254.17h10.67v1.57h-10.67zM187.1 246.32h10.67v1.57h-10.67zM187.1 210.22h10.67v1.57h-10.67zM197.7 271.44h10.67v1.57h-10.67zM197.7 216.50h10.67v1.57h-10.67z" fill="#c3d8ed"/>
<path d="M48.4 324.81h10.67v1.57h-10.67zM48.4 310.68h10.67v1.57h-10.67zM48.4 291.84h10.67v1.57h-10.67zM59.1 353.06h10.67v1.57h-10.67zM59.1 318.53h10.67v1.57h-10.67zM69.7 346.78h10.67v1.57h-10.67zM69.7 312.25h10.67v1.57h-10.67zM80.4 356.20h10.67v1.57h-10.67zM80.4 353.06h10.67v1.57h-10.67zM80.4 338.93h10.67v1.57h-10.67zM80.4 323.24h10.67v1.57h-10.67zM80.4 309.11h10.67v1.57h-10.67zM80.4 238.48h10.67v1.57h-10.67zM91.1 348.35h10.67v1.57h-10.67zM91.1 337.36h10.67v1.57h-10.67zM91.1 334.22h10.67v1.57h-10.67zM91.1 313.82h10.67v1.57h-10.67zM91.1 271.44h10.67v1.57h-10.67zM91.1 221.21h10.67v1.57h-10.67zM101.7 329.51h10.67v1.57h-10.67zM101.7 324.81h10.67v1.57h-10.67zM101.7 294.98h10.67v1.57h-10.67zM101.7 290.27h10.67v1.57h-10.67zM101.7 282.43h10.67v1.57h-10.67zM101.7 274.58h10.67v1.57h-10.67zM101.7 225.92h10.67v1.57h-10.67zM112.4 343.64h10.67v1.57h-10.67zM112.4 335.79h10.67v1.57h-10.67zM112.4 324.81h10.67v1.57h-10.67zM112.4 315.39h10.67v1.57h-10.67zM112.4 305.97h10.67v1.57h-10.67zM112.4 299.69h10.67v1.57h-10.67zM112.4 280.86h10.67v1.57h-10.67zM112.4 274.58h10.67v1.57h-10.67zM123.1 312.25h10.67v1.57h-10.67zM123.1 287.14h10.67v1.57h-10.67zM123.1 260.45h10.67v1.57h-10.67zM123.1 254.17h10.67v1.57h-10.67zM123.1 252.60h10.67v1.57h-10.67zM123.1 246.32h10.67v1.57h-10.67zM133.7 327.95h10.67v1.57h-10.67zM133.7 312.25h10.67v1.57h-10.67zM133.7 290.27h10.67v1.57h-10.67zM133.7 287.14h10.67v1.57h-10.67zM133.7 284.00h10.67v1.57h-10.67zM133.7 273.01h10.67v1.57h-10.67zM133.7 262.02h10.67v1.57h-10.67zM133.7 241.62h10.67v1.57h-10.67zM133.7 233.77h10.67v1.57h-10.67zM133.7 214.93h10.67v1.57h-10.67zM144.4 324.81h10.67v1.57h-10.67zM144.4 315.39h10.67v1.57h-10.67zM144.4 269.87h10.67v1.57h-10.67zM155.1 323.24h10.67v1.57h-10.67zM155.1 316.96h10.67v1.57h-10.67zM155.1 302.83h10.67v1.57h-10.67zM155.1 301.26h10.67v1.57h-10.67zM155.1 265.16h10.67v1.57h-10.67zM155.1 263.59h10.67v1.57h-10.67zM155.1 255.74h10.67v1.57h-10.67zM155.1 252.60h10.67v1.57h-10.67zM155.1 240.05h10.67v1.57h-10.67zM155.1 235.34h10.67v1.57h-10.67zM155.1 232.20h10.67v1.57h-10.67zM155.1 230.63h10.67v1.57h-10.67zM155.1 224.35h10.67v1.57h-10.67zM165.7 254.17h10.67v1.57h-10.67zM165.7 251.03h10.67v1.57h-10.67zM165.7 243.19h10.67v1.57h-10.67zM165.7 229.06h10.67v1.57h-10.67zM165.7 207.08h10.67v1.57h-10.67zM176.4 309.11h10.67v1.57h-10.67zM176.4 302.83h10.67v1.57h-10.67zM197.7 312.25h10.67v1.57h-10.67zM197.7 284.00h10.67v1.57h-10.67zM197.7 279.29h10.67v1.57h-10.67zM197.7 276.15h10.67v1.57h-10.67zM197.7 258.88h10.67v1.57h-10.67zM197.7 255.74h10.67v1.57h-10.67zM197.7 235.34h10.67v1.57h-10.67zM197.7 227.49h10.67v1.57h-10.67zM197.7 214.93h10.67v1.57h-10.67zM197.7 208.65h10.67v1.57h-10.67zM208.4 277.72h10.67v1.57h-10.67zM208.4 273.01h10.67v1.57h-10.67zM208.4 265.16h10.67v1.57h-10.67zM208.4 219.64h10.67v1.57h-10.67zM219.1 309.11h10.67v1.57h-10.67zM219.1 305.97h10.67v1.57h-10.67zM219.1 301.26h10.67v1.57h-10.67zM219.1 294.98h10.67v1.57h-10.67zM219.1 274.58h10.67v1.57h-10.67zM219.1 268.30h10.67v1.57h-10.67zM219.1 260.45h10.67v1.57h-10.67zM219.1 254.17h10.67v1.57h-10.67zM219.1 243.19h10.67v1.57h-10.67zM219.1 236.91h10.67v1.57h-10.67zM219.1 232.20h10.67v1.57h-10.67zM219.1 229.06h10.67v1.57h-10.67zM229.7 279.29h10.67v1.57h-10.67z" fill="#dbe7f6"/>
<path d="M48.4 321.67h10.67v1.57h-10.67zM48.4 247.89h10.67v1.57h-10.67zM59.1 316.96h10.67v1.57h-10.67zM59.1 241.62h10.67v1.57h-10.67zM59.1 238.48h10.67v1.57h-10.67zM80.4 331.08h10.67v1.57h-10.67zM80.4 327.95h10.67v1.57h-10.67z" fill="#90bae1"/>
<path d="M48.4 313.82h10.67v1.57h-10.67zM69.7 338.93h10.67v1.57h-10.67zM69.7 260.45h10.67v1.57h-10.67z" fill="#6ca2d8"/>
<path d="M48.4 312.25h10.67v1.57h-10.67zM69.7 331.08h10.67v1.57h-10.67zM69.7 302.83h10.67v1.57h-10.67zM80.4 342.07h10.67v1.57h-10.67zM80.4 335.79h10.67v1.57h-10.67zM80.4 243.19h10.67v1.57h-10.67zM101.7 315.39h10.67v1.57h-10.67zM123.1 284.00h10.67v1.57h-10.67zM123.1 280.86h10.67v1.57h-10.67zM123.1 268.30h10.67v1.57h-10.67zM144.4 243.19h10.67v1.57h-10.67zM144.4 241.62h10.67v1.57h-10.67zM155.1 310.68h10.67v1.57h-10.67zM187.1 276.15h10.67v1.57h-10.67zM187.1 252.60h10.67v1.57h-10.67z" fill="#abc9e7"/>
<path d="M48.4 307.54h10.67v1.57h-10.67zM48.4 260.45h10.67v1.57h-10.67zM59.1 298.12h10.67v1.57h-10.67zM69.7 318.53h10.67v1.57h-10.67zM80.4 269.87h10.67v1.57h-10.67zM80.4 262.02h10.67v1.57h-10.67zM91.1 302.83h10.67v1.57h-10.67zM91.1 291.84h10.67v1.57h-10.67zM91.1 258.88h10.67v1.57h-10.67zM91.1 204.00h10.67v1.51h-10.67zM101.7 258.88h10.67v1.57h-10.67zM112.4 340.50h10.67v1.57h-10.67zM112.4 284.00h10.67v1.57h-10.67zM144.4 210.22h10.67v1.57h-10.67zM176.4 290.27h10.67v1.57h-10.67zM176.4 277.72h10.67v1.57h-10.67zM187.1 285.57h10.67v1.57h-10.67zM187.1 271.44h10.67v1.57h-10.67zM187.1 269.87h10.67v1.57h-10.67zM187.1 244.76h10.67v1.57h-10.67z" fill="#b4cfea"/>
<path d="M48.4 304.40h10.67v1.57h-10.67zM48.4 273.01h10.67v1.57h-10.67zM59.1 313.82h10.67v1.57h-10.67zM80.4 260.45h10.67v1.57h-10.67zM91.1 246.32h10.67v1.57h-10.67zM144.4 221.21h10.67v1.57h-10.67zM176.4 273.01h10.67v1.57h-10.67zM176.4 224.35h10.67v1.57h-10.67zM187.1 251.03h10.67v1.57h-10.67zM187.1 224.35h10.67v1.57h-10.67z" fill="#aecce7"/>
<path d="M48.4 301.26h10.67v1.57h-10.67zM48.4 255.74h10.67v1.57h-10.67zM48.4 243.19h10.67v1.57h-10.67zM91.1 260.45h10.67v1.57h-10.67z" fill="#b1cce7"/>
<path d="M48.4 299.69h10.67v1.57h-10.67zM59.1 273.01h10.67v1.57h-10.67zM69.7 279.29h10.67v1.57h-10.67zM69.7 266.73h10.67v1.57h-10.67zM112.4 287.14h10.67v1.57h-10.67z" fill="#8db7e1"/>
<path d="M48.4 296.55h10.67v1.57h-10.67zM48.4 254.17h10.67v1.57h-10.67zM59.1 342.07h10.67v1.57h-10.67zM59.1 296.55h10.67v1.57h-10.67zM59.1 268.30h10.67v1.57h-10.67zM59.1 255.74h10.67v1.57h-10.67zM69.7 313.82h10.67v1.57h-10.67zM69.7 284.00h10.67v1.57h-10.67zM69.7 277.72h10.67v1.57h-10.67zM80.4 315.39h10.67v1.57h-10.67zM91.1 335.79h10.67v1.57h-10.67zM91.1 327.95h10.67v1.57h-10.67zM91.1 315.39h10.67v1.57h-10.67zM91.1 310.68h10.67v1.57h-10.67zM101.7 327.95h10.67v1.57h-10.67zM112.4 334.22h10.67v1.57h-10.67zM112.4 296.55h10.67v1.57h-10.67zM112.4 290.27h10.67v1.57h-10.67zM133.7 271.44h10.67v1.57h-10.67zM133.7 205.51h10.67v1.57h-10.67zM144.4 266.73h10.67v1.57h-10.67zM144.4 251.03h10.67v1.57h-10.67zM144.4 232.20h10.67v1.57h-10.67zM176.4 310.68h10.67v1.57h-10.67zM176.4 265.16h10.67v1.57h-10.67zM176.4 258.88h10.67v1.57h-10.67zM176.4 233.77h10.67v1.57h-10.67zM187.1 218.07h10.67v1.57h-10.67zM197.7 287.14h10.67v1.57h-10.67zM197.7 222.78h10.67v1.57h-10.67zM197.7 207.08h10.67v1.57h-10.67z" fill="#c0d5ed"/>
<path d="M48.4 285.57h10.67v1.57h-10.67zM69.7 294.98h10.67v1.57h-10.67zM80.4 252.60h10.67v1.57h-10.67zM80.4 247.89h10.67v1.57h-10.67zM91.1 284.00h10.67v1.57h-10.67zM101.7 262.02h10.67v1.57h-10.67zM112.4 310.68h10.67v1.57h-10.67zM187.1 265.16h10.67v1.57h-10.67zM187.1 238.48h10.67v1.57h-10.67z" fill="#9cc0e4"/>
<path d="M48.4 284.00h10.67v1.57h-10.67zM59.1 354.63h10.67v1.57h-10.67zM59.1 211.79h10.67v1.57h-10.67zM69.7 221.21h10.67v1.57h-10.67zM69.7 218.07h10.67v1.57h-10.67zM69.7 213.36h10.67v1.57h-10.67zM80.4 291.84h10.67v1.57h-10.67zM80.4 287.14h10.67v1.57h-10.67zM80.4 207.08h10.67v1.57h-10.67zM80.4 204.00h10.67v1.51h-10.67zM91.1 351.49h10.67v1.57h-10.67zM91.1 346.78h10.67v1.57h-10.67zM91.1 345.21h10.67v1.57h-10.67zM91.1 288.70h10.67v1.57h-10.67zM91.1 280.86h10.67v1.57h-10.67zM91.1 273.01h10.67v1.57h-10.67zM101.7 326.38h10.67v1.57h-10.67zM101.7 301.26h10.67v1.57h-10.67zM101.7 284.00h10.67v1.57h-10.67zM101.7 247.89h10.67v1.57h-10.67zM101.7 244.76h10.67v1.57h-10.67zM101.7 243.19h10.67v1.57h-10.67zM101.7 238.48h10.67v1.57h-10.67zM112.4 351.49h10.67v1.57h-10.67zM112.4 337.36h10.67v1.57h-10.67zM112.4 321.67h10.67v1.57h-10.67zM112.4 304.40h10.67v1.57h-10.67zM112.4 268.30h10.67v1.57h-10.67zM123.1 323.24h10.67v1.57h-10.67zM123.1 277.72h10.67v1.57h-10.67zM123.1 258.88h10.67v1.57h-10.67zM123.1 235.34h10.67v1.57h-10.67zM123.1 222.78h10.67v1.57h-10.67zM123.1 218.07h10.67v1.57h-10.67zM123.1 210.22h10.67v1.57h-10.67zM133.7 334.22h10.67v1.57h-10.67zM133.7 304.40h10.67v1.57h-10.67zM133.7 302.83h10.67v1.57h-10.67zM133.7 268.30h10.67v1.57h-10.67zM133.7 247.89h10.67v1.57h-10.67zM144.4 342.07h10.67v1.57h-10.67zM144.4 323.24h10.67v1.57h-10.67zM144.4 316.96h10.67v1.57h-10.67zM144.4 309.11h10.67v1.57h-10.67zM144.4 304.40h10.67v1.57h-10.67zM144.4 285.57h10.67v1.57h-10.67zM144.4 280.86h10.67v1.57h-10.67zM144.4 207.08h10.67v1.57h-10.67zM144.4 204.00h10.67v1.51h-10.67zM155.1 293.41h10.67v1.57h-10.67zM155.1 291.84h10.67v1.57h-10.67zM155.1 268.30h10.67v1.57h-10.67zM155.1 266.73h10.67v1.57h-10.67zM155.1 260.45h10.67v1.57h-10.67zM155.1 249.46h10.67v1.57h-10.67zM155.1 222.78h10.67v1.57h-10.67zM155.1 204.00h10.67v1.51h-10.67zM165.7 329.51h10.67v1.57h-10.67zM165.7 313.82h10.67v1.57h-10.67zM165.7 307.54h10.67v1.57h-10.67zM165.7 268.30h10.67v1.57h-10.67zM165.7 263.59h10.67v1.57h-10.67zM165.7 246.32h10.67v1.57h-10.67zM165.7 244.76h10.67v1.57h-10.67zM165.7 230.63h10.67v1.57h-10.67zM176.4 332.65h10.67v1.57h-10.67zM176.4 294.98h10.67v1.57h-10.67zM176.4 246.32h10.67v1.57h-10.67zM187.1 324.81h10.67v1.57h-10.67zM187.1 320.10h10.67v1.57h-10.67zM187.1 313.82h10.67v1.57h-10.67zM187.1 307.54h10.67v1.57h-10.67zM197.7 290.27h10.67v1.57h-10.67zM197.7 247.89h10.67v1.57h-10.67zM197.7 246.32h10.67v1.57h-10.67zM197.7 244.76h10.67v1.57h-10.67zM197.7 236.91h10.67v1.57h-10.67zM197.7 230.63h10.67v1.57h-10.67zM208.4 321.67h10.67v1.57h-10.67zM208.4 305.97h10.67v1.57h-10.67zM208.4 302.83h10.67v1.57h-10.67zM208.4 301.26h10.67v1.57h-10.67zM208.4 296.55h10.67v1.57h-10.67zM208.4 287.14h10.67v1.57h-10.67zM208.4 285.57h10.67v1.57h-10.67zM208.4 258.88h10.67v1.57h-10.67zM208.4 244.76h10.67v1.57h-10.67zM208.4 227.49h10.67v1.57h-10.67zM219.1 316.96h10.67v1.57h-10.67zM219.1 296.55h10.67v1.57h-10.67zM219.1 293.41h10.67v1.57h-10.67zM219.1 279.29h10.67v1.57h-10.67zM219.1 276.15h10.67v1.57h-10.67zM219.1 255.74h10.67v1.57h-10.67z" fill="#deeaf6"/>
<path d="M48.4 280.86h10.67v1.57h-10.67zM48.4 249.46h10.67v1.57h-10.67zM59.1 338.93h10.67v1.57h-10.67zM59.1 315.39h10.67v1.57h-10.67zM59.1 288.70h10.67v1.57h-10.67zM69.7 327.95h10.67v1.57h-10.67zM69.7 304.40h10.67v1.57h-10.67zM69.7 285.57h10.67v1.57h-10.67zM69.7 273.01h10.67v1.57h-10.67zM80.4 265.16h10.67v1.57h-10.67zM80.4 255.74h10.67v1.57h-10.67zM80.4 244.76h10.67v1.57h-10.67zM91.1 305.97h10.67v1.57h-10.67zM91.1 287.14h10.67v1.57h-10.67zM91.1 218.07h10.67v1.57h-10.67zM101.7 268.30h10.67v1.57h-10.67zM112.4 285.57h10.67v1.57h-10.67zM112.4 282.43h10.67v1.57h-10.67zM144.4 247.89h10.67v1.57h-10.67zM144.4 244.76h10.67v1.57h-10.67zM144.4 222.78h10.67v1.57h-10.67zM165.7 324.81h10.67v1.57h-10.67zM176.4 252.60h10.67v1.57h-10.67z" fill="#b1ccea"/>
<path d="M48.4 279.29h10.67v1.57h-10.67zM59.1 233.77h10.67v1.57h-10.67zM59.1 227.49h10.67v1.57h-10.67zM59.1 218.07h10.67v1.57h-10.67zM59.1 208.65h10.67v1.57h-10.67zM69.7 332.65h10.67v1.57h-10.67zM69.7 235.34h10.67v1.57h-10.67zM69.7 232.20h10.67v1.57h-10.67zM69.7 227.49h10.67v1.57h-10.67zM69.7 207.08h10.67v1.57h-10.67zM80.4 354.63h10.67v1.57h-10.67zM80.4 332.65h10.67v1.57h-10.67zM91.1 329.51h10.67v1.57h-10.67zM101.7 351.49h10.67v1.57h-10.67zM101.7 340.50h10.67v1.57h-10.67zM101.7 249.46h10.67v1.57h-10.67zM101.7 246.32h10.67v1.57h-10.67zM101.7 241.62h10.67v1.57h-10.67zM101.7 235.34h10.67v1.57h-10.67zM101.7 233.77h10.67v1.57h-10.67zM101.7 232.20h10.67v1.57h-10.67zM101.7 216.50h10.67v1.57h-10.67zM101.7 211.79h10.67v1.57h-10.67zM112.4 329.51h10.67v1.57h-10.67zM112.4 316.96h10.67v1.57h-10.67zM112.4 307.54h10.67v1.57h-10.67zM112.4 258.88h10.67v1.57h-10.67zM112.4 246.32h10.67v1.57h-10.67zM112.4 224.35h10.67v1.57h-10.67zM112.4 222.78h10.67v1.57h-10.67zM112.4 218.07h10.67v1.57h-10.67zM112.4 211.79h10.67v1.57h-10.67zM123.1 345.21h10.67v1.57h-10.67zM123.1 229.06h10.67v1.57h-10.67zM123.1 208.65h10.67v1.57h-10.67zM133.7 276.15h10.67v1.57h-10.67zM133.7 257.31h10.67v1.57h-10.67zM133.7 235.34h10.67v1.57h-10.67zM133.7 222.78h10.67v1.57h-10.67zM133.7 204.00h10.67v1.51h-10.67zM144.4 334.22h10.67v1.57h-10.67zM144.4 312.25h10.67v1.57h-10.67zM144.4 293.41h10.67v1.57h-10.67zM144.4 282.43h10.67v1.57h-10.67zM144.4 277.72h10.67v1.57h-10.67zM155.1 312.25h10.67v1.57h-10.67zM155.1 305.97h10.67v1.57h-10.67zM155.1 284.00h10.67v1.57h-10.67zM155.1 254.17h10.67v1.57h-10.67zM155.1 207.08h10.67v1.57h-10.67zM165.7 316.96h10.67v1.57h-10.67zM165.7 298.12h10.67v1.57h-10.67zM165.7 290.27h10.67v1.57h-10.67zM165.7 285.57h10.67v1.57h-10.67zM165.7 280.86h10.67v1.57h-10.67zM165.7 277.72h10.67v1.57h-10.67zM165.7 265.16h10.67v1.57h-10.67zM165.7 262.02h10.67v1.57h-10.67zM165.7 252.60h10.67v1.57h-10.67zM165.7 241.62h10.67v1.57h-10.67zM165.7 232.20h10.67v1.57h-10.67zM165.7 225.92h10.67v1.57h-10.67zM165.7 224.35h10.67v1.57h-10.67zM165.7 204.00h10.67v1.51h-10.67zM176.4 329.51h10.67v1.57h-10.67zM176.4 285.57h10.67v1.57h-10.67zM187.1 302.83h10.67v1.57h-10.67zM197.7 298.12h10.67v1.57h-10.67zM197.7 254.17h10.67v1.57h-10.67zM197.7 240.05h10.67v1.57h-10.67zM208.4 307.54h10.67v1.57h-10.67zM208.4 290.27h10.67v1.57h-10.67zM208.4 284.00h10.67v1.57h-10.67zM208.4 274.58h10.67v1.57h-10.67zM208.4 271.44h10.67v1.57h-10.67zM208.4 262.02h10.67v1.57h-10.67zM208.4 260.45h10.67v1.57h-10.67zM208.4 255.74h10.67v1.57h-10.67zM208.4 252.60h10.67v1.57h-10.67zM208.4 249.46h10.67v1.57h-10.67zM208.4 222.78h10.67v1.57h-10.67zM208.4 214.93h10.67v1.57h-10.67zM219.1 321.67h10.67v1.57h-10.67zM219.1 299.69h10.67v1.57h-10.67zM219.1 285.57h10.67v1.57h-10.67zM219.1 273.01h10.67v1.57h-10.67zM219.1 265.16h10.67v1.57h-10.67zM219.1 246.32h10.67v1.57h-10.67zM219.1 244.76h10.67v1.57h-10.67zM219.1 227.49h10.67v1.57h-10.67zM219.1 210.22h10.67v1.57h-10.67zM219.1 205.51h10.67v1.57h-10.67zM229.7 315.39h10.67v1.57h-10.67zM229.7 312.25h10.67v1.57h-10.67zM229.7 310.68h10.67v1.57h-10.67zM229.7 299.69h10.67v1.57h-10.67zM229.7 288.70h10.67v1.57h-10.67zM229.7 280.86h10.67v1.57h-10.67zM229.7 269.87h10.67v1.57h-10.67zM229.7 262.02h10.67v1.57h-10.67zM229.7 252.60h10.67v1.57h-10.67zM229.7 233.77h10.67v1.57h-10.67z" fill="#e4edf9"/>
<path d="M48.4 274.58h10.67v1.57h-10.67zM48.4 241.62h10.67v1.57h-10.67zM59.1 293.41h10.67v1.57h-10.67zM80.4 266.73h10.67v1.57h-10.67zM80.4 254.17h10.67v1.57h-10.67zM91.1 285.57h10.67v1.57h-10.67zM101.7 320.10h10.67v1.57h-10.67z" fill="#96bde1"/>
<path d="M48.4 269.87h10.67v1.57h-10.67zM48.4 265.16h10.67v1.57h-10.67zM48.4 257.31h10.67v1.57h-10.67zM59.1 327.95h10.67v1.57h-10.67zM59.1 254.17h10.67v1.57h-10.67zM80.4 326.38h10.67v1.57h-10.67zM80.4 312.25h10.67v1.57h-10.67zM80.4 263.59h10.67v1.57h-10.67zM80.4 208.65h10.67v1.57h-10.67zM91.1 316.96h10.67v1.57h-10.67zM91.1 222.78h10.67v1.57h-10.67zM101.7 263.59h10.67v1.57h-10.67zM112.4 291.84h10.67v1.57h-10.67zM112.4 288.70h10.67v1.57h-10.67zM123.1 294.98h10.67v1.57h-10.67zM133.7 227.49h10.67v1.57h-10.67zM144.4 321.67h10.67v1.57h-10.67zM144.4 294.98h10.67v1.57h-10.67zM144.4 263.59h10.67v1.57h-10.67zM144.4 254.17h10.67v1.57h-10.67zM144.4 225.92h10.67v1.57h-10.67zM144.4 216.50h10.67v1.57h-10.67zM155.1 277.72h10.67v1.57h-10.67zM155.1 227.49h10.67v1.57h-10.67zM165.7 301.26h10.67v1.57h-10.67zM165.7 299.69h10.67v1.57h-10.67zM176.4 229.06h10.67v1.57h-10.67zM187.1 232.20h10.67v1.57h-10.67zM187.1 204.00h10.67v1.51h-10.67zM197.7 288.70h10.67v1.57h-10.67zM197.7 274.58h10.67v1.57h-10.67zM197.7 266.73h10.67v1.57h-10.67zM197.7 241.62h10.67v1.57h-10.67zM208.4 241.62h10.67v1.57h-10.67z" fill="#cfdef0"/>
<path d="M48.4 266.73h10.67v1.57h-10.67zM59.1 269.87h10.67v1.57h-10.67zM69.7 309.11h10.67v1.57h-10.67zM91.1 244.76h10.67v1.57h-10.67zM187.1 240.05h10.67v1.57h-10.67z" fill="#87b4de"/>
<path d="M48.4 262.02h10.67v1.57h-10.67zM48.4 238.48h10.67v1.57h-10.67zM59.1 284.00h10.67v1.57h-10.67zM80.4 310.68h10.67v1.57h-10.67zM80.4 249.46h10.67v1.57h-10.67zM80.4 236.91h10.67v1.57h-10.67zM176.4 263.59h10.67v1.57h-10.67zM176.4 235.34h10.67v1.57h-10.67zM187.1 284.00h10.67v1.57h-10.67zM187.1 274.58h10.67v1.57h-10.67z" fill="#a2c3e4"/>
<path d="M48.4 258.88h10.67v1.57h-10.67zM59.1 307.54h10.67v1.57h-10.67zM59.1 290.27h10.67v1.57h-10.67zM59.1 276.15h10.67v1.57h-10.67zM69.7 329.51h10.67v1.57h-10.67zM69.7 293.41h10.67v1.57h-10.67zM69.7 280.86h10.67v1.57h-10.67zM80.4 334.22h10.67v1.57h-10.67zM91.1 298.12h10.67v1.57h-10.67zM91.1 274.58h10.67v1.57h-10.67zM91.1 243.19h10.67v1.57h-10.67zM101.7 252.60h10.67v1.57h-10.67zM123.1 316.96h10.67v1.57h-10.67zM123.1 269.87h10.67v1.57h-10.67zM133.7 251.03h10.67v1.57h-10.67zM144.4 249.46h10.67v1.57h-10.67zM176.4 249.46h10.67v1.57h-10.67zM187.1 268.30h10.67v1.57h-10.67zM187.1 260.45h10.67v1.57h-10.67zM187.1 258.88h10.67v1.57h-10.67zM197.7 293.41h10.67v1.57h-10.67zM197.7 229.06h10.67v1.57h-10.67z" fill="#b7cfea"/>
<path d="M48.4 252.60h10.67v1.57h-10.67zM101.7 255.74h10.67v1.57h-10.67zM112.4 273.01h10.67v1.57h-10.67z" fill="#75a8db"/>
<path d="M48.4 251.03h10.67v1.57h-10.67zM59.1 285.57h10.67v1.57h-10.67zM69.7 335.79h10.67v1.57h-10.67zM80.4 251.03h10.67v1.57h-10.67zM176.4 216.50h10.67v1.57h-10.67zM187.1 243.19h10.67v1.57h-10.67z" fill="#93bae1"/>
<path d="M48.4 246.32h10.67v1.57h-10.67zM59.1 335.79h10.67v1.57h-10.67zM59.1 291.84h10.67v1.57h-10.67zM69.7 299.69h10.67v1.57h-10.67zM69.7 276.15h10.67v1.57h-10.67zM69.7 274.58h10.67v1.57h-10.67zM69.7 269.87h10.67v1.57h-10.67zM80.4 305.97h10.67v1.57h-10.67zM80.4 219.64h10.67v1.57h-10.67zM91.1 312.25h10.67v1.57h-10.67zM91.1 301.26h10.67v1.57h-10.67zM91.1 290.27h10.67v1.57h-10.67zM91.1 282.43h10.67v1.57h-10.67zM91.1 240.05h10.67v1.57h-10.67zM91.1 236.91h10.67v1.57h-10.67zM91.1 216.50h10.67v1.57h-10.67zM123.1 310.68h10.67v1.57h-10.67zM133.7 277.72h10.67v1.57h-10.67zM144.4 214.93h10.67v1.57h-10.67zM155.1 218.07h10.67v1.57h-10.67zM176.4 271.44h10.67v1.57h-10.67zM187.1 288.70h10.67v1.57h-10.67zM187.1 225.92h10.67v1.57h-10.67zM219.1 307.54h10.67v1.57h-10.67z" fill="#bdd2ea"/>
<path d="M48.4 244.76h10.67v1.57h-10.67zM69.7 321.67h10.67v1.57h-10.67zM69.7 246.32h10.67v1.57h-10.67zM69.7 244.76h10.67v1.57h-10.67zM91.1 249.46h10.67v1.57h-10.67z" fill="#7babdb"/>
<path d="M48.4 229.06h10.67v1.57h-10.67zM59.1 362.48h10.67v1.57h-10.67zM59.1 236.91h10.67v1.57h-10.67zM59.1 222.78h10.67v1.57h-10.67zM59.1 219.64h10.67v1.57h-10.67zM59.1 216.50h10.67v1.57h-10.67zM69.7 360.91h10.67v1.57h-10.67zM69.7 238.48h10.67v1.57h-10.67zM69.7 236.91h10.67v1.57h-10.67zM69.7 205.51h10.67v1.57h-10.67zM80.4 210.22h10.67v1.57h-10.67zM91.1 356.20h10.67v1.57h-10.67zM91.1 276.15h10.67v1.57h-10.67zM101.7 348.35h10.67v1.57h-10.67zM101.7 342.07h10.67v1.57h-10.67zM101.7 305.97h10.67v1.57h-10.67zM101.7 304.40h10.67v1.57h-10.67zM101.7 277.72h10.67v1.57h-10.67zM101.7 236.91h10.67v1.57h-10.67zM101.7 219.64h10.67v1.57h-10.67zM101.7 218.07h10.67v1.57h-10.67zM101.7 207.08h10.67v1.57h-10.67zM101.7 205.51h10.67v1.57h-10.67zM101.7 204.00h10.67v1.51h-10.67zM112.4 320.10h10.67v1.57h-10.67zM112.4 298.12h10.67v1.57h-10.67zM112.4 255.74h10.67v1.57h-10.67zM112.4 241.62h10.67v1.57h-10.67zM112.4 232.20h10.67v1.57h-10.67zM112.4 230.63h10.67v1.57h-10.67zM112.4 229.06h10.67v1.57h-10.67zM112.4 221.21h10.67v1.57h-10.67zM112.4 208.65h10.67v1.57h-10.67zM112.4 205.51h10.67v1.57h-10.67zM123.1 351.49h10.67v1.57h-10.67zM123.1 348.35h10.67v1.57h-10.67zM123.1 343.64h10.67v1.57h-10.67zM123.1 337.36h10.67v1.57h-10.67zM123.1 332.65h10.67v1.57h-10.67zM123.1 315.39h10.67v1.57h-10.67zM123.1 230.63h10.67v1.57h-10.67zM123.1 211.79h10.67v1.57h-10.67zM123.1 207.08h10.67v1.57h-10.67zM123.1 204.00h10.67v1.51h-10.67zM133.7 351.49h10.67v1.57h-10.67zM133.7 345.21h10.67v1.57h-10.67zM133.7 342.07h10.67v1.57h-10.67zM133.7 340.50h10.67v1.57h-10.67zM133.7 337.36h10.67v1.57h-10.67zM133.7 332.65h10.67v1.57h-10.67zM133.7 331.08h10.67v1.57h-10.67zM133.7 320.10h10.67v1.57h-10.67zM133.7 316.96h10.67v1.57h-10.67zM133.7 301.26h10.67v1.57h-10.67zM133.7 282.43h10.67v1.57h-10.67zM144.4 327.95h10.67v1.57h-10.67zM144.4 310.68h10.67v1.57h-10.67zM144.4 307.54h10.67v1.57h-10.67zM144.4 301.26h10.67v1.57h-10.67zM144.4 291.84h10.67v1.57h-10.67zM144.4 288.70h10.67v1.57h-10.67zM144.4 284.00h10.67v1.57h-10.67zM155.1 321.67h10.67v1.57h-10.67zM155.1 294.98h10.67v1.57h-10.67zM155.1 257.31h10.67v1.57h-10.67zM155.1 246.32h10.67v1.57h-10.67zM155.1 221.21h10.67v1.57h-10.67zM155.1 211.79h10.67v1.57h-10.67zM165.7 335.79h10.67v1.57h-10.67zM165.7 294.98h10.67v1.57h-10.67zM165.7 287.14h10.67v1.57h-10.67zM165.7 273.01h10.67v1.57h-10.67zM165.7 269.87h10.67v1.57h-10.67zM165.7 260.45h10.67v1.57h-10.67zM165.7 258.88h10.67v1.57h-10.67zM165.7 238.48h10.67v1.57h-10.67zM165.7 235.34h10.67v1.57h-10.67zM165.7 227.49h10.67v1.57h-10.67zM165.7 214.93h10.67v1.57h-10.67zM165.7 211.79h10.67v1.57h-10.67zM176.4 331.08h10.67v1.57h-10.67zM176.4 304.40h10.67v1.57h-10.67zM176.4 301.26h10.67v1.57h-10.67zM176.4 299.69h10.67v1.57h-10.67zM187.1 318.53h10.67v1.57h-10.67zM187.1 312.25h10.67v1.57h-10.67zM187.1 299.69h10.67v1.57h-10.67zM187.1 293.41h10.67v1.57h-10.67zM197.7 334.22h10.67v1.57h-10.67zM197.7 324.81h10.67v1.57h-10.67zM197.7 307.54h10.67v1.57h-10.67zM208.4 323.24h10.67v1.57h-10.67zM208.4 320.10h10.67v1.57h-10.67zM208.4 318.53h10.67v1.57h-10.67zM208.4 293.41h10.67v1.57h-10.67zM208.4 282.43h10.67v1.57h-10.67zM208.4 257.31h10.67v1.57h-10.67zM208.4 229.06h10.67v1.57h-10.67zM208.4 225.92h10.67v1.57h-10.67zM208.4 216.50h10.67v1.57h-10.67zM208.4 211.79h10.67v1.57h-10.67zM208.4 210.22h10.67v1.57h-10.67zM208.4 208.65h10.67v1.57h-10.67zM208.4 205.51h10.67v1.57h-10.67zM219.1 326.38h10.67v1.57h-10.67zM219.1 320.10h10.67v1.57h-10.67zM219.1 310.68h10.67v1.57h-10.67zM219.1 304.40h10.67v1.57h-10.67zM219.1 280.86h10.67v1.57h-10.67zM219.1 266.73h10.67v1.57h-10.67zM219.1 251.03h10.67v1.57h-10.67zM219.1 207.08h10.67v1.57h-10.67zM229.7 327.95h10.67v1.57h-10.67zM229.7 324.81h10.67v1.57h-10.67zM229.7 304.40h10.67v1.57h-10.67zM229.7 302.83h10.67v1.57h-10.67zM229.7 301.26h10.67v1.57h-10.67zM229.7 296.55h10.67v1.57h-10.67zM229.7 293.41h10.67v1.57h-10.67zM229.7 287.14h10.67v1.57h-10.67zM229.7 273.01h10.67v1.57h-10.67zM229.7 271.44h10.67v1.57h-10.67zM229.7 263.59h10.67v1.57h-10.67zM229.7 260.45h10.67v1.57h-10.67zM229.7 249.46h10.67v1.57h-10.67zM229.7 247.89h10.67v1.57h-10.67zM229.7 246.32h10.67v1.57h-10.67zM229.7 244.76h10.67v1.57h-10.67zM229.7 241.62h10.67v1.57h-10.67zM229.7 240.05h10.67v1.57h-10.67zM229.7 238.48h10.67v1.57h-10.67zM229.7 222.78h10.67v1.57h-10.67zM229.7 218.07h10.67v1.57h-10.67z" fill="#e7f0f9"/>
<path d="M59.1 368.76h10.67v1.57h-10.67zM80.4 365.62h10.67v1.57h-10.67zM91.1 364.05h10.67v1.57h-10.67zM91.1 362.48h10.67v1.57h-10.67zM101.7 362.48h10.67v1.57h-10.67zM101.7 359.34h10.67v1.57h-10.67zM112.4 360.91h10.67v1.57h-10.67zM123.1 356.20h10.67v1.57h-10.67zM133.7 356.20h10.67v1.57h-10.67zM144.4 356.20h10.67v1.57h-10.67zM155.1 354.63h10.67v1.57h-10.67zM155.1 353.06h10.67v1.57h-10.67zM155.1 345.21h10.67v1.57h-10.67zM165.7 351.49h10.67v1.57h-10.67zM165.7 348.35h10.67v1.57h-10.67zM176.4 351.49h10.67v1.57h-10.67zM176.4 349.92h10.67v1.57h-10.67zM187.1 348.35h10.67v1.57h-10.67zM197.7 346.78h10.67v1.57h-10.67zM197.7 338.93h10.67v1.57h-10.67zM219.1 338.93h10.67v1.57h-10.67zM229.7 337.36h10.67v1.57h-10.67z" fill="#f3f9fc"/>
<path d="M59.1 367.19h10.67v1.57h-10.67zM59.1 364.05h10.67v1.57h-10.67zM59.1 235.34h10.67v1.57h-10.67zM59.1 230.63h10.67v1.57h-10.67zM69.7 214.93h10.67v1.57h-10.67zM80.4 349.92h10.67v1.57h-10.67zM91.1 354.63h10.67v1.57h-10.67zM101.7 240.05h10.67v1.57h-10.67zM101.7 221.21h10.67v1.57h-10.67zM101.7 213.36h10.67v1.57h-10.67zM112.4 356.20h10.67v1.57h-10.67zM112.4 353.06h10.67v1.57h-10.67zM112.4 338.93h10.67v1.57h-10.67zM112.4 257.31h10.67v1.57h-10.67zM112.4 251.03h10.67v1.57h-10.67zM112.4 247.89h10.67v1.57h-10.67zM112.4 244.76h10.67v1.57h-10.67zM112.4 240.05h10.67v1.57h-10.67zM112.4 238.48h10.67v1.57h-10.67zM112.4 219.64h10.67v1.57h-10.67zM112.4 214.93h10.67v1.57h-10.67zM112.4 213.36h10.67v1.57h-10.67zM112.4 210.22h10.67v1.57h-10.67zM123.1 342.07h10.67v1.57h-10.67zM133.7 354.63h10.67v1.57h-10.67zM133.7 326.38h10.67v1.57h-10.67zM133.7 313.82h10.67v1.57h-10.67zM133.7 291.84h10.67v1.57h-10.67zM144.4 345.21h10.67v1.57h-10.67zM144.4 337.36h10.67v1.57h-10.67zM144.4 329.51h10.67v1.57h-10.67zM155.1 320.10h10.67v1.57h-10.67zM155.1 276.15h10.67v1.57h-10.67zM155.1 238.48h10.67v1.57h-10.67zM165.7 342.07h10.67v1.57h-10.67zM165.7 304.40h10.67v1.57h-10.67zM165.7 288.70h10.67v1.57h-10.67zM176.4 345.21h10.67v1.57h-10.67zM176.4 335.79h10.67v1.57h-10.67zM176.4 327.95h10.67v1.57h-10.67zM176.4 291.84h10.67v1.57h-10.67zM187.1 327.95h10.67v1.57h-10.67zM187.1 326.38h10.67v1.57h-10.67zM187.1 296.55h10.67v1.57h-10.67zM197.7 340.50h10.67v1.57h-10.67zM197.7 326.38h10.67v1.57h-10.67zM197.7 323.24h10.67v1.57h-10.67zM197.7 309.11h10.67v1.57h-10.67zM208.4 338.93h10.67v1.57h-10.67zM208.4 335.79h10.67v1.57h-10.67zM208.4 334.22h10.67v1.57h-10.67zM208.4 332.65h10.67v1.57h-10.67zM208.4 331.08h10.67v1.57h-10.67zM208.4 329.51h10.67v1.57h-10.67zM208.4 312.25h10.67v1.57h-10.67zM208.4 204.00h10.67v1.51h-10.67zM219.1 323.24h10.67v1.57h-10.67zM219.1 313.82h10.67v1.57h-10.67zM229.7 334.22h10.67v1.57h-10.67zM229.7 323.24h10.67v1.57h-10.67zM229.7 305.97h10.67v1.57h-10.67zM229.7 298.12h10.67v1.57h-10.67zM229.7 290.27h10.67v1.57h-10.67zM229.7 277.72h10.67v1.57h-10.67zM229.7 274.58h10.67v1.57h-10.67zM229.7 255.74h10.67v1.57h-10.67zM229.7 232.20h10.67v1.57h-10.67zM229.7 230.63h10.67v1.57h-10.67zM229.7 225.92h10.67v1.57h-10.67zM229.7 216.50h10.67v1.57h-10.67z" fill="#eaf3f9"/>
<path d="M59.1 349.92h10.67v1.57h-10.67zM59.1 346.78h10.67v1.57h-10.67zM59.1 274.58h10.67v1.57h-10.67zM91.1 252.60h10.67v1.57h-10.67z" fill="#99c0e4"/>
<path d="M59.1 345.21h10.67v1.57h-10.67zM59.1 321.67h10.67v1.57h-10.67zM69.7 323.24h10.67v1.57h-10.67zM80.4 274.58h10.67v1.57h-10.67zM80.4 218.07h10.67v1.57h-10.67zM91.1 299.69h10.67v1.57h-10.67zM91.1 266.73h10.67v1.57h-10.67zM101.7 287.14h10.67v1.57h-10.67zM101.7 260.45h10.67v1.57h-10.67zM112.4 276.15h10.67v1.57h-10.67zM176.4 280.86h10.67v1.57h-10.67zM187.1 263.59h10.67v1.57h-10.67zM187.1 262.02h10.67v1.57h-10.67zM187.1 249.46h10.67v1.57h-10.67zM187.1 236.91h10.67v1.57h-10.67zM187.1 229.06h10.67v1.57h-10.67zM187.1 227.49h10.67v1.57h-10.67zM187.1 216.50h10.67v1.57h-10.67zM187.1 208.65h10.67v1.57h-10.67zM187.1 207.08h10.67v1.57h-10.67z" fill="#bad2ea"/>
<path d="M59.1 343.64h10.67v1.57h-10.67zM80.4 351.49h10.67v1.57h-10.67zM80.4 273.01h10.67v1.57h-10.67zM80.4 257.31h10.67v1.57h-10.67zM144.4 252.60h10.67v1.57h-10.67zM144.4 230.63h10.67v1.57h-10.67zM187.1 273.01h10.67v1.57h-10.67zM187.1 219.64h10.67v1.57h-10.67z" fill="#ccdbf0"/>
<path d="M59.1 337.36h10.67v1.57h-10.67zM59.1 251.03h10.67v1.57h-10.67zM69.7 343.64h10.67v1.57h-10.67zM69.7 324.81h10.67v1.57h-10.67zM69.7 301.26h10.67v1.57h-10.67zM91.1 326.38h10.67v1.57h-10.67zM91.1 229.06h10.67v1.57h-10.67zM112.4 327.95h10.67v1.57h-10.67zM112.4 262.02h10.67v1.57h-10.67zM133.7 305.97h10.67v1.57h-10.67zM133.7 236.91h10.67v1.57h-10.67zM144.4 326.38h10.67v1.57h-10.67zM176.4 323.24h10.67v1.57h-10.67zM187.1 287.14h10.67v1.57h-10.67zM187.1 247.89h10.67v1.57h-10.67zM197.7 299.69h10.67v1.57h-10.67z" fill="#bdd5ed"/>
<path d="M59.1 331.08h10.67v1.57h-10.67z" fill="#5793d2"/>
<path d="M59.1 326.38h10.67v1.57h-10.67z" fill="#a5c6e4"/>
<path d="M59.1 324.81h10.67v1.57h-10.67zM69.7 296.55h10.67v1.57h-10.67zM69.7 251.03h10.67v1.57h-10.67zM91.1 268.30h10.67v1.57h-10.67z" fill="#699fd5"/>
<path d="M59.1 302.83h10.67v1.57h-10.67zM101.7 266.73h10.67v1.57h-10.67z" fill="#6fa2d8"/>
<path d="M59.1 299.69h10.67v1.57h-10.67zM69.7 348.35h10.67v1.57h-10.67zM69.7 334.22h10.67v1.57h-10.67zM112.4 331.08h10.67v1.57h-10.67zM123.1 324.81h10.67v1.57h-10.67zM133.7 293.41h10.67v1.57h-10.67zM144.4 320.10h10.67v1.57h-10.67zM144.4 240.05h10.67v1.57h-10.67zM176.4 268.30h10.67v1.57h-10.67zM187.1 221.21h10.67v1.57h-10.67z" fill="#a5c6e7"/>
<path d="M59.1 287.14h10.67v1.57h-10.67zM69.7 252.60h10.67v1.57h-10.67z" fill="#78a8db"/>
<path d="M59.1 279.29h10.67v1.57h-10.67zM59.1 277.72h10.67v1.57h-10.67zM80.4 318.53h10.67v1.57h-10.67z" fill="#84b1de"/>
<path d="M59.1 271.44h10.67v1.57h-10.67zM69.7 307.54h10.67v1.57h-10.67z" fill="#8ab7de"/>
<path d="M59.1 266.73h10.67v1.57h-10.67zM59.1 252.60h10.67v1.57h-10.67zM59.1 247.89h10.67v1.57h-10.67zM69.7 310.68h10.67v1.57h-10.67z" fill="#639cd5"/>
<path d="M59.1 263.59h10.67v1.57h-10.67zM59.1 260.45h10.67v1.57h-10.67zM69.7 257.31h10.67v1.57h-10.67zM69.7 247.89h10.67v1.57h-10.67z" fill="#6099d5"/>
<path d="M59.1 262.02h10.67v1.57h-10.67zM69.7 263.59h10.67v1.57h-10.67z" fill="#78abdb"/>
<path d="M59.1 258.88h10.67v1.57h-10.67z" fill="#366fc0"/>
<path d="M59.1 257.31h10.67v1.57h-10.67z" fill="#3c75c3"/>
<path d="M59.1 249.46h10.67v1.57h-10.67z" fill="#93bde1"/>
<path d="M59.1 243.19h10.67v1.57h-10.67z" fill="#84b4de"/>
<path d="M69.7 340.50h10.67v1.57h-10.67z" fill="#5d96d2"/>
<path d="M69.7 316.96h10.67v1.57h-10.67zM69.7 258.88h10.67v1.57h-10.67z" fill="#669fd5"/>
<path d="M69.7 305.97h10.67v1.57h-10.67zM91.1 254.17h10.67v1.57h-10.67zM123.1 326.38h10.67v1.57h-10.67zM176.4 315.39h10.67v1.57h-10.67z" fill="#99bde4"/>
<path d="M69.7 298.12h10.67v1.57h-10.67zM80.4 329.51h10.67v1.57h-10.67zM101.7 251.03h10.67v1.57h-10.67zM144.4 235.34h10.67v1.57h-10.67z" fill="#b4ccea"/>
<path d="M69.7 288.70h10.67v1.57h-10.67z" fill="#6399d5"/>
<path d="M69.7 265.16h10.67v1.57h-10.67zM91.1 232.20h10.67v1.57h-10.67zM101.7 323.24h10.67v1.57h-10.67zM176.4 282.43h10.67v1.57h-10.67zM187.1 291.84h10.67v1.57h-10.67z" fill="#b7d2ea"/>
<path d="M69.7 262.02h10.67v1.57h-10.67z" fill="#3f78c6"/>
<path d="M69.7 255.74h10.67v1.57h-10.67z" fill="#669cd5"/>
<path d="M69.7 254.17h10.67v1.57h-10.67zM176.4 276.15h10.67v1.57h-10.67z" fill="#72a5d8"/>
<path d="M69.7 249.46h10.67v1.57h-10.67z" fill="#81aede"/>
<path d="M69.7 243.19h10.67v1.57h-10.67z" fill="#6fa5d8"/>
<path d="M69.7 241.62h10.67v1.57h-10.67z" fill="#427bc6"/>
<path d="M69.7 240.05h10.67v1.57h-10.67z" fill="#6099d2"/>
<path d="M80.4 321.67h10.67v1.57h-10.67zM91.1 263.59h10.67v1.57h-10.67z" fill="#4b87cc"/>
<path d="M80.4 280.86h10.67v1.57h-10.67zM123.1 276.15h10.67v1.57h-10.67zM144.4 302.83h10.67v1.57h-10.67zM165.7 309.11h10.67v1.57h-10.67z" fill="#a8c9e7"/>
<path d="M80.4 277.72h10.67v1.57h-10.67zM101.7 321.67h10.67v1.57h-10.67zM187.1 277.72h10.67v1.57h-10.67z" fill="#8ab4de"/>
<path d="M80.4 258.88h10.67v1.57h-10.67zM101.7 254.17h10.67v1.57h-10.67zM133.7 279.29h10.67v1.57h-10.67z" fill="#81b1de"/>
<path d="M80.4 241.62h10.67v1.57h-10.67zM80.4 216.50h10.67v1.57h-10.67zM101.7 331.08h10.67v1.57h-10.67zM123.1 338.93h10.67v1.57h-10.67zM155.1 269.87h10.67v1.57h-10.67z" fill="#d5e1f3"/>
<path d="M80.4 211.79h10.67v1.57h-10.67zM91.1 269.87h10.67v1.57h-10.67zM112.4 332.65h10.67v1.57h-10.67zM176.4 221.21h10.67v1.57h-10.67z" fill="#c3d5ed"/>
<path d="M91.1 293.41h10.67v1.57h-10.67zM91.1 241.62h10.67v1.57h-10.67zM187.1 282.43h10.67v1.57h-10.67zM187.1 279.29h10.67v1.57h-10.67z" fill="#aec9e7"/>
<path d="M91.1 262.02h10.67v1.57h-10.67z" fill="#5490cf"/>
<path d="M91.1 210.22h10.67v1.57h-10.67zM101.7 208.65h10.67v1.57h-10.67zM112.4 345.21h10.67v1.57h-10.67zM123.1 329.51h10.67v1.57h-10.67zM155.1 304.40h10.67v1.57h-10.67zM155.1 229.06h10.67v1.57h-10.67zM176.4 298.12h10.67v1.57h-10.67zM187.1 290.27h10.67v1.57h-10.67zM208.4 298.12h10.67v1.57h-10.67z" fill="#e4f0f9"/>
<path d="M101.7 273.01h10.67v1.57h-10.67z" fill="#4e8acc"/>
<path d="M112.4 271.44h10.67v1.57h-10.67zM176.4 230.63h10.67v1.57h-10.67z" fill="#bdd2ed"/>
<path d="M187.1 280.86h10.67v1.57h-10.67z" fill="#75a8d8"/>
<path d="M187.1 235.34h10.67v1.57h-10.67z" fill="#9fc0e4"/>
<line x1="48.4" y1="345.3" x2="240.4" y2="332.3" stroke="#40ee10" stroke-width="2.0" stroke-dasharray="7.2,3.66"/>
<path d="M60.10,210.3 L64.50,206.80 L63.50,209.50 L68.10,209.50 L68.10,211.10 L63.50,211.10 L64.50,213.80 Z" fill="#a0102a"/>
<path d="M70.77,210.3 L75.17,206.80 L74.17,209.50 L78.77,209.50 L78.77,211.10 L74.17,211.10 L75.17,213.80 Z" fill="#a0102a"/>
<path d="M81.43,210.3 L85.83,206.80 L84.83,209.50 L89.43,209.50 L89.43,211.10 L84.83,211.10 L85.83,213.80 Z" fill="#a0102a"/>
<path d="M92.10,210.3 L96.50,206.80 L95.50,209.50 L100.10,209.50 L100.10,211.10 L95.50,211.10 L96.50,213.80 Z" fill="#a0102a"/>
<path d="M102.77,210.3 L107.17,206.80 L106.17,209.50 L110.77,209.50 L110.77,211.10 L106.17,211.10 L107.17,213.80 Z" fill="#a0102a"/>
<path d="M113.43,210.3 L117.83,206.80 L116.83,209.50 L121.43,209.50 L121.43,211.10 L116.83,211.10 L117.83,213.80 Z" fill="#a0102a"/>
<path d="M124.10,210.3 L128.50,206.80 L127.50,209.50 L132.10,209.50 L132.10,211.10 L127.50,211.10 L128.50,213.80 Z" fill="#a0102a"/>
<path d="M134.77,210.3 L139.17,206.80 L138.17,209.50 L142.77,209.50 L142.77,211.10 L138.17,211.10 L139.17,213.80 Z" fill="#a0102a"/>
<path d="M145.43,210.3 L149.83,206.80 L148.83,209.50 L153.43,209.50 L153.43,211.10 L148.83,211.10 L149.83,213.80 Z" fill="#a0102a"/>
<path d="M156.10,210.3 L160.50,206.80 L159.50,209.50 L164.10,209.50 L164.10,211.10 L159.50,211.10 L160.50,213.80 Z" fill="#a0102a"/>
<path d="M166.77,210.3 L171.17,206.80 L170.17,209.50 L174.77,209.50 L174.77,211.10 L170.17,211.10 L171.17,213.80 Z" fill="#a0102a"/>
<path d="M177.43,210.3 L181.83,206.80 L180.83,209.50 L185.43,209.50 L185.43,211.10 L180.83,211.10 L181.83,213.80 Z" fill="#a0102a"/>
<path d="M188.10,210.3 L192.50,206.80 L191.50,209.50 L196.10,209.50 L196.10,211.10 L191.50,211.10 L192.50,213.80 Z" fill="#a0102a"/>
<path d="M198.77,210.3 L203.17,206.80 L202.17,209.50 L206.77,209.50 L206.77,211.10 L202.17,211.10 L203.17,213.80 Z" fill="#a0102a"/>
<path d="M209.43,210.3 L213.83,206.80 L212.83,209.50 L217.43,209.50 L217.43,211.10 L212.83,211.10 L213.83,213.80 Z" fill="#a0102a"/>
<path d="M220.10,210.3 L224.50,206.80 L223.50,209.50 L228.10,209.50 L228.10,211.10 L223.50,211.10 L224.50,213.80 Z" fill="#a0102a"/>
<path d="M230.77,210.3 L235.17,206.80 L234.17,209.50 L238.77,209.50 L238.77,211.10 L234.17,211.10 L235.17,213.80 Z" fill="#a0102a"/>
<path d="M57.13,385.3 L52.73,381.80 L53.73,384.50 L49.13,384.50 L49.13,386.10 L53.73,386.10 L52.73,388.80 Z" fill="#73af14"/>
<path d="M67.80,385.3 L63.40,381.80 L64.40,384.50 L59.80,384.50 L59.80,386.10 L64.40,386.10 L63.40,388.80 Z" fill="#73af14"/>
<path d="M78.47,385.3 L74.07,381.80 L75.07,384.50 L70.47,384.50 L70.47,386.10 L75.07,386.10 L74.07,388.80 Z" fill="#73af14"/>
<path d="M89.13,385.3 L84.73,381.80 L85.73,384.50 L81.13,384.50 L81.13,386.10 L85.73,386.10 L84.73,388.80 Z" fill="#73af14"/>
<path d="M99.80,385.3 L95.40,381.80 L96.40,384.50 L91.80,384.50 L91.80,386.10 L96.40,386.10 L95.40,388.80 Z" fill="#73af14"/>
<path d="M110.47,385.3 L106.07,381.80 L107.07,384.50 L102.47,384.50 L102.47,386.10 L107.07,386.10 L106.07,388.80 Z" fill="#73af14"/>
<path d="M121.13,385.3 L116.73,381.80 L117.73,384.50 L113.13,384.50 L113.13,386.10 L117.73,386.10 L116.73,388.80 Z" fill="#73af14"/>
<path d="M131.80,385.3 L127.40,381.80 L128.40,384.50 L123.80,384.50 L123.80,386.10 L128.40,386.10 L127.40,388.80 Z" fill="#73af14"/>
<path d="M142.47,385.3 L138.07,381.80 L139.07,384.50 L134.47,384.50 L134.47,386.10 L139.07,386.10 L138.07,388.80 Z" fill="#73af14"/>
<path d="M153.13,385.3 L148.73,381.80 L149.73,384.50 L145.13,384.50 L145.13,386.10 L149.73,386.10 L148.73,388.80 Z" fill="#73af14"/>
<path d="M163.80,385.3 L159.40,381.80 L160.40,384.50 L155.80,384.50 L155.80,386.10 L160.40,386.10 L159.40,388.80 Z" fill="#73af14"/>
<path d="M174.47,385.3 L170.07,381.80 L171.07,384.50 L166.47,384.50 L166.47,386.10 L171.07,386.10 L170.07,388.80 Z" fill="#73af14"/>
<path d="M185.13,385.3 L180.73,381.80 L181.73,384.50 L177.13,384.50 L177.13,386.10 L181.73,386.10 L180.73,388.80 Z" fill="#73af14"/>
<path d="M195.80,385.3 L191.40,381.80 L192.40,384.50 L187.80,384.50 L187.80,386.10 L192.40,386.10 L191.40,388.80 Z" fill="#73af14"/>
<path d="M206.47,385.3 L202.07,381.80 L203.07,384.50 L198.47,384.50 L198.47,386.10 L203.07,386.10 L202.07,388.80 Z" fill="#73af14"/>
<path d="M217.13,385.3 L212.73,381.80 L213.73,384.50 L209.13,384.50 L209.13,386.10 L213.73,386.10 L212.73,388.80 Z" fill="#73af14"/>
<path d="M227.80,385.3 L223.40,381.80 L224.40,384.50 L219.80,384.50 L219.80,386.10 L224.40,386.10 L223.40,388.80 Z" fill="#73af14"/>
<path d="M238.47,385.3 L234.07,381.80 L235.07,384.50 L230.47,384.50 L230.47,386.10 L235.07,386.10 L234.07,388.80 Z" fill="#73af14"/>
<path d="M57.2,219.2 L54.6,222.5 L57.9,224.5 L55.2,227.1 L58.5,229.1 L59.8,231.0 L55.9,233.0 L55.2,235.0 L57.9,236.3 L62.5,237.6 L66.4,239.2 L73.0,239.6 L76.9,241.3 L82.2,241.8 L87.4,243.5 L92.7,244.4 L97.9,245.2 L103.2,246.8 L107.1,249.2 L113.7,250.1 L119.0,252.0 L124.2,254.0 L126.8,256.6 L122.9,258.4 L119.6,259.9 L119.6,262.6 L124.2,263.9 L129.5,265.2 L135.3,267.5 L140.5,270.5 L148.4,271.4 L151.7,274.4 L158.9,276.0 L162.8,278.4 L169.4,279.3 L173.4,281.9 L179.9,282.6 L183.2,285.9 L190.4,286.8 L193.7,293.1 L201.0,293.8 L204.2,300.3 L210.1,301.6 L213.4,304.9" fill="none" stroke="#e5b200" stroke-width="3.6" stroke-linejoin="round" stroke-linecap="round"/>
<rect x="48.4" y="204" width="192.0" height="188.3" fill="none" stroke="#1a1a1a" stroke-width="1.6"/>
<path d="M48.4,392.3 h3.5 M240.4,392.3 h-3.5" stroke="#1a1a1a" stroke-width="1.3"/>
<g transform="translate(29.22,398.74) scale(1.1765,1.0510)"><text font-size="18" >0</text></g>
<path d="M48.4,349.0 h3.5 M240.4,349.0 h-3.5" stroke="#1a1a1a" stroke-width="1.3"/>
<g transform="translate(29.51,355.57) scale(1.1765,1.0510)"><text font-size="18" >2</text></g>
<path d="M48.4,305.7 h3.5 M240.4,305.7 h-3.5" stroke="#1a1a1a" stroke-width="1.3"/>
<g transform="translate(28.92,312.14) scale(1.1765,1.0510)"><text font-size="18" >4</text></g>
<path d="M48.4,262.4 h3.5 M240.4,262.4 h-3.5" stroke="#1a1a1a" stroke-width="1.3"/>
<g transform="translate(29.22,268.84) scale(1.1765,1.0510)"><text font-size="18" >6</text></g>
<path d="M48.4,219.1 h3.5 M240.4,219.1 h-3.5" stroke="#1a1a1a" stroke-width="1.3"/>
<g transform="translate(29.22,225.54) scale(1.1765,1.0510)"><text font-size="18" >8</text></g>
<path d="M53.7,392.3 v-3.5 M53.7,204 v3.5" stroke="#1a1a1a" stroke-width="1.3"/>
<g transform="translate(48.40,414.60) scale(1.0167,1.0196)"><text font-size="18" >1</text></g>
<path d="M139.1,392.3 v-3.5 M139.1,204 v3.5" stroke="#1a1a1a" stroke-width="1.3"/>
<g transform="translate(133.98,414.60) scale(1.0167,1.0196)"><text font-size="18" >9</text></g>
<path d="M235.1,392.3 v-3.5 M235.1,204 v3.5" stroke="#1a1a1a" stroke-width="1.3"/>
<g transform="translate(224.65,414.60) scale(1.0167,1.0196)"><text font-size="18" >18</text></g>
<g transform="translate(80.64,438.00) scale(1.0752,0.9887)"><text font-size="18">Rotor Index <tspan font-style="italic">n</tspan></text></g>
<g transform="translate(17.03,313.31) rotate(-90) scale(1.0138,1.0448)"><text font-size="18"><tspan font-style="italic">t</tspan> (s)</text></g>
<g transform="translate(335.43,303.68) rotate(-90) scale(1.0521,1.1038)"><text font-size="18"><tspan font-style="italic">E&#771;</tspan><tspan font-style="italic" font-size="13" dy="4">n</tspan></text></g>
<rect x="256.4" y="204" width="20.3" height="188.3" fill="url(#cb)" stroke="#1a1a1a" stroke-width="1.6"/>
<g transform="translate(283.35,398.83) scale(1.0695,1.0667)"><text font-size="18" >0</text></g>
<path d="M276.7,345.2 h-3" stroke="#1a1a1a" stroke-width="1.3"/>
<g transform="translate(283.35,351.76) scale(1.0695,1.0667)"><text font-size="18" >0.1</text></g>
<path d="M276.7,298.1 h-3" stroke="#1a1a1a" stroke-width="1.3"/>
<g transform="translate(283.35,304.68) scale(1.0695,1.0667)"><text font-size="18" >0.2</text></g>
<path d="M276.7,251.1 h-3" stroke="#1a1a1a" stroke-width="1.3"/>
<g transform="translate(283.35,257.61) scale(1.0695,1.0667)"><text font-size="18" >0.3</text></g>
<g transform="translate(283.35,210.53) scale(1.0695,1.0667)"><text font-size="18" >0.4</text></g>
<g transform="translate(348.59,159.51) scale(1.0105,0.9674)"><text font-size="19.5" font-weight="bold">c</text></g>
<g transform="translate(450.31,163.30) scale(1.0362,0.9818)"><text font-size="18.5" >Simulation</text></g>
<g transform="translate(412.43,192.70) scale(1.0913,0.9677)"><text font-size="17.5"><tspan font-style="italic">&#964;</tspan><tspan font-style="italic" font-size="12.5" dy="3.3">0</tspan><tspan dy="-3.3"> = 16.3977 mN m</tspan></text></g>
<rect x="395.7" y="204" width="192.0" height="188.3" fill="#fcfdff"/>
<path d="M395.7 359.82h10.67v2.17h-10.67zM427.7 357.66h10.67v2.17h-10.67zM449.0 355.50h10.67v2.17h-10.67zM459.7 353.33h10.67v2.17h-10.67zM470.4 353.33h10.67v2.17h-10.67zM491.7 351.17h10.67v2.17h-10.67zM502.4 349.00h10.67v2.17h-10.67zM513.0 349.00h10.67v2.17h-10.67zM523.7 346.84h10.67v2.17h-10.67zM545.0 346.84h10.67v2.17h-10.67zM545.0 344.67h10.67v2.17h-10.67zM555.7 344.67h10.67v2.17h-10.67zM566.4 344.67h10.67v2.17h-10.67z" fill="#f3f9fc"/>
<path d="M395.7 357.66h10.67v2.17h-10.67zM417.0 355.50h10.67v2.17h-10.67zM417.0 353.33h10.67v2.17h-10.67zM438.4 249.41h10.67v2.17h-10.67zM449.0 353.33h10.67v2.17h-10.67zM459.7 349.00h10.67v2.17h-10.67zM459.7 346.84h10.67v2.17h-10.67zM481.0 255.91h10.67v2.17h-10.67zM491.7 344.67h10.67v2.17h-10.67zM502.4 346.84h10.67v2.17h-10.67zM502.4 344.67h10.67v2.17h-10.67zM502.4 336.01h10.67v2.17h-10.67zM502.4 253.74h10.67v2.17h-10.67zM513.0 344.67h10.67v2.17h-10.67zM513.0 327.35h10.67v2.17h-10.67zM523.7 333.85h10.67v2.17h-10.67zM523.7 325.19h10.67v2.17h-10.67zM523.7 253.74h10.67v2.17h-10.67zM555.7 338.18h10.67v2.17h-10.67zM566.4 333.85h10.67v2.17h-10.67zM577.0 320.86h10.67v2.17h-10.67zM577.0 249.41h10.67v2.17h-10.67z" fill="#eaf3f9"/>
<path d="M395.7 355.50h10.67v2.17h-10.67zM395.7 290.55h10.67v2.17h-10.67zM406.4 336.01h10.67v2.17h-10.67zM427.7 344.67h10.67v2.17h-10.67zM438.4 247.25h10.67v2.17h-10.67zM449.0 351.17h10.67v2.17h-10.67zM449.0 331.68h10.67v2.17h-10.67zM449.0 294.88h10.67v2.17h-10.67zM459.7 333.85h10.67v2.17h-10.67zM481.0 344.67h10.67v2.17h-10.67zM481.0 338.18h10.67v2.17h-10.67zM481.0 331.68h10.67v2.17h-10.67zM481.0 323.02h10.67v2.17h-10.67zM481.0 307.87h10.67v2.17h-10.67zM481.0 245.08h10.67v2.17h-10.67zM491.7 303.54h10.67v2.17h-10.67zM513.0 325.19h10.67v2.17h-10.67zM513.0 242.92h10.67v2.17h-10.67zM523.7 318.69h10.67v2.17h-10.67zM577.0 318.69h10.67v2.17h-10.67z" fill="#d8e7f3"/>
<path d="M395.7 353.33h10.67v2.17h-10.67zM395.7 351.17h10.67v2.17h-10.67zM395.7 249.41h10.67v2.17h-10.67zM406.4 344.67h10.67v2.17h-10.67zM406.4 249.41h10.67v2.17h-10.67zM427.7 351.17h10.67v2.17h-10.67zM427.7 333.85h10.67v2.17h-10.67zM427.7 292.71h10.67v2.17h-10.67zM438.4 346.84h10.67v2.17h-10.67zM438.4 305.70h10.67v2.17h-10.67zM438.4 253.74h10.67v2.17h-10.67zM449.0 286.22h10.67v2.17h-10.67zM449.0 249.41h10.67v2.17h-10.67zM449.0 247.25h10.67v2.17h-10.67zM459.7 329.51h10.67v2.17h-10.67zM459.7 323.02h10.67v2.17h-10.67zM459.7 318.69h10.67v2.17h-10.67zM459.7 299.21h10.67v2.17h-10.67zM470.4 329.51h10.67v2.17h-10.67zM470.4 325.19h10.67v2.17h-10.67zM470.4 323.02h10.67v2.17h-10.67zM481.0 320.86h10.67v2.17h-10.67zM481.0 281.88h10.67v2.17h-10.67zM491.7 301.37h10.67v2.17h-10.67zM502.4 286.22h10.67v2.17h-10.67zM513.0 340.34h10.67v2.17h-10.67zM513.0 323.02h10.67v2.17h-10.67zM513.0 307.87h10.67v2.17h-10.67zM513.0 290.55h10.67v2.17h-10.67zM513.0 281.88h10.67v2.17h-10.67zM523.7 286.22h10.67v2.17h-10.67zM534.4 331.68h10.67v2.17h-10.67zM534.4 299.21h10.67v2.17h-10.67zM534.4 294.88h10.67v2.17h-10.67zM545.0 316.52h10.67v2.17h-10.67zM545.0 314.36h10.67v2.17h-10.67zM555.7 242.92h10.67v2.17h-10.67zM555.7 240.75h10.67v2.17h-10.67zM566.4 323.02h10.67v2.17h-10.67zM566.4 312.19h10.67v2.17h-10.67z" fill="#dbe7f6"/>
<path d="M395.7 349.00h10.67v2.17h-10.67zM395.7 340.34h10.67v2.17h-10.67zM406.4 297.04h10.67v2.17h-10.67zM417.0 305.70h10.67v2.17h-10.67zM417.0 288.38h10.67v2.17h-10.67zM427.7 310.03h10.67v2.17h-10.67zM427.7 286.22h10.67v2.17h-10.67zM438.4 290.55h10.67v2.17h-10.67zM449.0 340.34h10.67v2.17h-10.67zM449.0 329.51h10.67v2.17h-10.67zM449.0 318.69h10.67v2.17h-10.67zM470.4 316.52h10.67v2.17h-10.67zM470.4 307.87h10.67v2.17h-10.67zM481.0 329.51h10.67v2.17h-10.67zM513.0 314.36h10.67v2.17h-10.67zM513.0 305.70h10.67v2.17h-10.67zM513.0 299.21h10.67v2.17h-10.67zM523.7 338.18h10.67v2.17h-10.67zM523.7 329.51h10.67v2.17h-10.67zM545.0 329.51h10.67v2.17h-10.67z" fill="#c9dbf0"/>
<path d="M395.7 346.84h10.67v2.17h-10.67zM395.7 271.06h10.67v2.17h-10.67zM417.0 340.34h10.67v2.17h-10.67zM438.4 342.50h10.67v2.17h-10.67zM438.4 316.52h10.67v2.17h-10.67zM438.4 312.19h10.67v2.17h-10.67zM438.4 294.88h10.67v2.17h-10.67zM438.4 279.72h10.67v2.17h-10.67zM459.7 310.03h10.67v2.17h-10.67zM459.7 301.37h10.67v2.17h-10.67zM470.4 312.19h10.67v2.17h-10.67zM481.0 303.54h10.67v2.17h-10.67zM491.7 340.34h10.67v2.17h-10.67zM502.4 329.51h10.67v2.17h-10.67zM555.7 314.36h10.67v2.17h-10.67zM555.7 307.87h10.67v2.17h-10.67z" fill="#cfdef0"/>
<path d="M395.7 344.67h10.67v2.17h-10.67zM395.7 338.18h10.67v2.17h-10.67zM395.7 331.68h10.67v2.17h-10.67zM395.7 297.04h10.67v2.17h-10.67zM406.4 346.84h10.67v2.17h-10.67zM417.0 342.50h10.67v2.17h-10.67zM427.7 320.86h10.67v2.17h-10.67zM427.7 294.88h10.67v2.17h-10.67zM438.4 340.34h10.67v2.17h-10.67zM438.4 331.68h10.67v2.17h-10.67zM438.4 323.02h10.67v2.17h-10.67zM449.0 349.00h10.67v2.17h-10.67zM449.0 336.01h10.67v2.17h-10.67zM449.0 320.86h10.67v2.17h-10.67zM449.0 284.05h10.67v2.17h-10.67zM459.7 344.67h10.67v2.17h-10.67zM459.7 336.01h10.67v2.17h-10.67zM459.7 307.87h10.67v2.17h-10.67zM459.7 245.08h10.67v2.17h-10.67zM470.4 318.69h10.67v2.17h-10.67zM481.0 288.38h10.67v2.17h-10.67zM491.7 325.19h10.67v2.17h-10.67zM502.4 310.03h10.67v2.17h-10.67zM502.4 245.08h10.67v2.17h-10.67zM513.0 294.88h10.67v2.17h-10.67zM523.7 297.04h10.67v2.17h-10.67zM523.7 242.92h10.67v2.17h-10.67zM534.4 312.19h10.67v2.17h-10.67zM566.4 240.75h10.67v2.17h-10.67zM577.0 325.19h10.67v2.17h-10.67zM577.0 240.75h10.67v2.17h-10.67z" fill="#d2e1f3"/>
<path d="M395.7 342.50h10.67v2.17h-10.67zM395.7 264.56h10.67v2.17h-10.67zM417.0 299.21h10.67v2.17h-10.67zM417.0 297.04h10.67v2.17h-10.67zM417.0 292.71h10.67v2.17h-10.67zM427.7 349.00h10.67v2.17h-10.67zM427.7 290.55h10.67v2.17h-10.67zM427.7 288.38h10.67v2.17h-10.67zM449.0 323.02h10.67v2.17h-10.67zM449.0 299.21h10.67v2.17h-10.67zM470.4 305.70h10.67v2.17h-10.67zM491.7 290.55h10.67v2.17h-10.67zM513.0 292.71h10.67v2.17h-10.67z" fill="#b7cfea"/>
<path d="M395.7 336.01h10.67v2.17h-10.67zM395.7 292.71h10.67v2.17h-10.67zM417.0 310.03h10.67v2.17h-10.67zM523.7 299.21h10.67v2.17h-10.67z" fill="#bdd5ed"/>
<path d="M395.7 333.85h10.67v2.17h-10.67zM417.0 273.23h10.67v2.17h-10.67zM438.4 286.22h10.67v2.17h-10.67zM449.0 342.50h10.67v2.17h-10.67zM449.0 312.19h10.67v2.17h-10.67zM459.7 297.04h10.67v2.17h-10.67zM459.7 294.88h10.67v2.17h-10.67zM470.4 297.04h10.67v2.17h-10.67zM470.4 294.88h10.67v2.17h-10.67zM491.7 297.04h10.67v2.17h-10.67zM534.4 327.35h10.67v2.17h-10.67z" fill="#c6dbed"/>
<path d="M395.7 329.51h10.67v2.17h-10.67zM502.4 325.19h10.67v2.17h-10.67z" fill="#ccdbf0"/>
<path d="M395.7 327.35h10.67v2.17h-10.67zM395.7 279.72h10.67v2.17h-10.67zM406.4 342.50h10.67v2.17h-10.67zM459.7 327.35h10.67v2.17h-10.67zM545.0 305.70h10.67v2.17h-10.67z" fill="#a5c6e7"/>
<path d="M395.7 325.19h10.67v2.17h-10.67zM406.4 288.38h10.67v2.17h-10.67zM417.0 318.69h10.67v2.17h-10.67zM491.7 279.72h10.67v2.17h-10.67z" fill="#a2c3e4"/>
<path d="M395.7 323.02h10.67v2.17h-10.67zM395.7 314.36h10.67v2.17h-10.67zM417.0 290.55h10.67v2.17h-10.67zM427.7 336.01h10.67v2.17h-10.67zM438.4 336.01h10.67v2.17h-10.67zM438.4 333.85h10.67v2.17h-10.67zM438.4 277.56h10.67v2.17h-10.67zM459.7 305.70h10.67v2.17h-10.67zM491.7 286.22h10.67v2.17h-10.67zM502.4 318.69h10.67v2.17h-10.67zM502.4 299.21h10.67v2.17h-10.67zM513.0 301.37h10.67v2.17h-10.67zM523.7 320.86h10.67v2.17h-10.67zM523.7 312.19h10.67v2.17h-10.67zM555.7 316.52h10.67v2.17h-10.67z" fill="#c3d8ed"/>
<path d="M395.7 320.86h10.67v2.17h-10.67zM395.7 284.05h10.67v2.17h-10.67zM406.4 310.03h10.67v2.17h-10.67zM417.0 307.87h10.67v2.17h-10.67zM438.4 318.69h10.67v2.17h-10.67zM449.0 333.85h10.67v2.17h-10.67zM449.0 301.37h10.67v2.17h-10.67zM470.4 299.21h10.67v2.17h-10.67zM491.7 292.71h10.67v2.17h-10.67zM513.0 331.68h10.67v2.17h-10.67zM513.0 303.54h10.67v2.17h-10.67zM534.4 333.85h10.67v2.17h-10.67z" fill="#bdd2ea"/>
<path d="M395.7 318.69h10.67v2.17h-10.67zM406.4 323.02h10.67v2.17h-10.67zM502.4 292.71h10.67v2.17h-10.67z" fill="#99bde4"/>
<path d="M395.7 316.52h10.67v2.17h-10.67zM406.4 299.21h10.67v2.17h-10.67zM417.0 284.05h10.67v2.17h-10.67z" fill="#a8c9e7"/>
<path d="M395.7 312.19h10.67v2.17h-10.67zM395.7 286.22h10.67v2.17h-10.67zM395.7 273.23h10.67v2.17h-10.67zM406.4 301.37h10.67v2.17h-10.67zM417.0 303.54h10.67v2.17h-10.67zM545.0 310.03h10.67v2.17h-10.67z" fill="#93bae1"/>
<path d="M395.7 310.03h10.67v2.17h-10.67zM406.4 273.23h10.67v2.17h-10.67zM417.0 255.91h10.67v2.17h-10.67z" fill="#7eaedb"/>
<path d="M395.7 307.87h10.67v2.17h-10.67z" fill="#c3d5ed"/>
<path d="M395.7 305.70h10.67v2.17h-10.67zM417.0 249.41h10.67v2.17h-10.67zM427.7 346.84h10.67v2.17h-10.67zM427.7 301.37h10.67v2.17h-10.67zM449.0 307.87h10.67v2.17h-10.67zM449.0 297.04h10.67v2.17h-10.67zM449.0 292.71h10.67v2.17h-10.67zM459.7 325.19h10.67v2.17h-10.67zM459.7 320.86h10.67v2.17h-10.67zM470.4 342.50h10.67v2.17h-10.67zM470.4 310.03h10.67v2.17h-10.67zM470.4 284.05h10.67v2.17h-10.67zM470.4 245.08h10.67v2.17h-10.67zM481.0 336.01h10.67v2.17h-10.67zM491.7 284.05h10.67v2.17h-10.67zM502.4 316.52h10.67v2.17h-10.67zM502.4 288.38h10.67v2.17h-10.67zM513.0 297.04h10.67v2.17h-10.67zM513.0 245.08h10.67v2.17h-10.67zM534.4 318.69h10.67v2.17h-10.67zM534.4 305.70h10.67v2.17h-10.67zM534.4 242.92h10.67v2.17h-10.67zM577.0 316.52h10.67v2.17h-10.67zM577.0 314.36h10.67v2.17h-10.67z" fill="#ccdef0"/>
<path d="M395.7 303.54h10.67v2.17h-10.67z" fill="#99c0e4"/>
<path d="M395.7 301.37h10.67v2.17h-10.67zM427.7 297.04h10.67v2.17h-10.67zM427.7 284.05h10.67v2.17h-10.67z" fill="#9fc0e4"/>
<path d="M395.7 299.21h10.67v2.17h-10.67zM417.0 327.35h10.67v2.17h-10.67zM417.0 286.22h10.67v2.17h-10.67zM438.4 288.38h10.67v2.17h-10.67zM449.0 273.23h10.67v2.17h-10.67zM459.7 338.18h10.67v2.17h-10.67zM491.7 288.38h10.67v2.17h-10.67z" fill="#9cc0e4"/>
<path d="M395.7 294.88h10.67v2.17h-10.67zM395.7 288.38h10.67v2.17h-10.67zM406.4 351.17h10.67v2.17h-10.67zM406.4 325.19h10.67v2.17h-10.67zM406.4 320.86h10.67v2.17h-10.67zM406.4 316.52h10.67v2.17h-10.67zM417.0 316.52h10.67v2.17h-10.67zM417.0 271.06h10.67v2.17h-10.67zM427.7 303.54h10.67v2.17h-10.67zM449.0 290.55h10.67v2.17h-10.67zM449.0 281.88h10.67v2.17h-10.67zM459.7 290.55h10.67v2.17h-10.67zM459.7 286.22h10.67v2.17h-10.67zM481.0 305.70h10.67v2.17h-10.67z" fill="#bad2ea"/>
<path d="M395.7 281.88h10.67v2.17h-10.67zM481.0 284.05h10.67v2.17h-10.67z" fill="#90bae1"/>
<path d="M395.7 277.56h10.67v2.17h-10.67zM449.0 279.72h10.67v2.17h-10.67z" fill="#81aedb"/>
<path d="M395.7 275.39h10.67v2.17h-10.67zM427.7 273.23h10.67v2.17h-10.67zM449.0 305.70h10.67v2.17h-10.67z" fill="#8ab4de"/>
<path d="M395.7 268.89h10.67v2.17h-10.67zM395.7 266.73h10.67v2.17h-10.67zM417.0 260.24h10.67v2.17h-10.67z" fill="#81aede"/>
<path d="M395.7 262.40h10.67v2.17h-10.67z" fill="#669cd5"/>
<path d="M395.7 260.24h10.67v2.17h-10.67zM427.7 281.88h10.67v2.17h-10.67z" fill="#5a96d2"/>
<path d="M395.7 258.07h10.67v2.17h-10.67zM406.4 279.72h10.67v2.17h-10.67zM406.4 262.40h10.67v2.17h-10.67zM417.0 258.07h10.67v2.17h-10.67zM427.7 264.56h10.67v2.17h-10.67zM438.4 268.89h10.67v2.17h-10.67zM438.4 260.24h10.67v2.17h-10.67z" fill="#366fc0"/>
<path d="M395.7 255.91h10.67v2.17h-10.67zM406.4 331.68h10.67v2.17h-10.67zM459.7 277.56h10.67v2.17h-10.67zM459.7 271.06h10.67v2.17h-10.67zM470.4 277.56h10.67v2.17h-10.67zM523.7 301.37h10.67v2.17h-10.67z" fill="#87b4de"/>
<path d="M395.7 253.74h10.67v2.17h-10.67zM449.0 262.40h10.67v2.17h-10.67zM523.7 303.54h10.67v2.17h-10.67z" fill="#78a8db"/>
<path d="M395.7 251.58h10.67v2.17h-10.67zM406.4 253.74h10.67v2.17h-10.67z" fill="#427bc6"/>
<path d="M406.4 357.66h10.67v2.17h-10.67zM427.7 253.74h10.67v2.17h-10.67zM427.7 251.58h10.67v2.17h-10.67zM438.4 353.33h10.67v2.17h-10.67zM438.4 251.58h10.67v2.17h-10.67zM459.7 340.34h10.67v2.17h-10.67zM459.7 262.40h10.67v2.17h-10.67zM459.7 260.24h10.67v2.17h-10.67zM470.4 349.00h10.67v2.17h-10.67zM470.4 344.67h10.67v2.17h-10.67zM470.4 275.39h10.67v2.17h-10.67zM470.4 258.07h10.67v2.17h-10.67zM481.0 346.84h10.67v2.17h-10.67zM481.0 342.50h10.67v2.17h-10.67zM481.0 340.34h10.67v2.17h-10.67zM481.0 273.23h10.67v2.17h-10.67zM481.0 271.06h10.67v2.17h-10.67zM481.0 268.89h10.67v2.17h-10.67zM491.7 346.84h10.67v2.17h-10.67zM491.7 318.69h10.67v2.17h-10.67zM491.7 255.91h10.67v2.17h-10.67zM502.4 284.05h10.67v2.17h-10.67zM502.4 277.56h10.67v2.17h-10.67zM502.4 255.91h10.67v2.17h-10.67zM513.0 338.18h10.67v2.17h-10.67zM513.0 288.38h10.67v2.17h-10.67zM513.0 253.74h10.67v2.17h-10.67zM523.7 336.01h10.67v2.17h-10.67zM523.7 323.02h10.67v2.17h-10.67zM523.7 290.55h10.67v2.17h-10.67zM534.4 342.50h10.67v2.17h-10.67zM534.4 340.34h10.67v2.17h-10.67zM534.4 338.18h10.67v2.17h-10.67zM534.4 292.71h10.67v2.17h-10.67zM545.0 338.18h10.67v2.17h-10.67zM545.0 251.58h10.67v2.17h-10.67zM555.7 331.68h10.67v2.17h-10.67zM555.7 327.35h10.67v2.17h-10.67zM555.7 325.19h10.67v2.17h-10.67zM566.4 336.01h10.67v2.17h-10.67zM566.4 327.35h10.67v2.17h-10.67zM566.4 318.69h10.67v2.17h-10.67zM566.4 305.70h10.67v2.17h-10.67zM566.4 251.58h10.67v2.17h-10.67zM577.0 338.18h10.67v2.17h-10.67zM577.0 327.35h10.67v2.17h-10.67zM577.0 312.19h10.67v2.17h-10.67zM577.0 307.87h10.67v2.17h-10.67z" fill="#e7f0f9"/>
<path d="M406.4 355.50h10.67v2.17h-10.67zM427.7 353.33h10.67v2.17h-10.67zM449.0 344.67h10.67v2.17h-10.67zM459.7 351.17h10.67v2.17h-10.67zM470.4 346.84h10.67v2.17h-10.67zM502.4 342.50h10.67v2.17h-10.67zM502.4 340.34h10.67v2.17h-10.67zM513.0 342.50h10.67v2.17h-10.67zM523.7 344.67h10.67v2.17h-10.67zM545.0 336.01h10.67v2.17h-10.67zM545.0 333.85h10.67v2.17h-10.67zM566.4 329.51h10.67v2.17h-10.67z" fill="#edf3fc"/>
<path d="M406.4 353.33h10.67v2.17h-10.67zM406.4 349.00h10.67v2.17h-10.67zM427.7 249.41h10.67v2.17h-10.67zM438.4 297.04h10.67v2.17h-10.67zM438.4 255.91h10.67v2.17h-10.67zM449.0 251.58h10.67v2.17h-10.67zM459.7 312.19h10.67v2.17h-10.67zM481.0 310.03h10.67v2.17h-10.67zM491.7 323.02h10.67v2.17h-10.67zM491.7 320.86h10.67v2.17h-10.67zM491.7 314.36h10.67v2.17h-10.67zM491.7 312.19h10.67v2.17h-10.67zM491.7 310.03h10.67v2.17h-10.67zM491.7 305.70h10.67v2.17h-10.67zM491.7 294.88h10.67v2.17h-10.67zM502.4 338.18h10.67v2.17h-10.67zM502.4 314.36h10.67v2.17h-10.67zM502.4 312.19h10.67v2.17h-10.67zM502.4 305.70h10.67v2.17h-10.67zM502.4 281.88h10.67v2.17h-10.67zM523.7 314.36h10.67v2.17h-10.67zM523.7 305.70h10.67v2.17h-10.67zM523.7 294.88h10.67v2.17h-10.67zM545.0 303.54h10.67v2.17h-10.67zM555.7 333.85h10.67v2.17h-10.67zM555.7 320.86h10.67v2.17h-10.67zM555.7 303.54h10.67v2.17h-10.67zM555.7 301.37h10.67v2.17h-10.67zM555.7 297.04h10.67v2.17h-10.67zM566.4 310.03h10.67v2.17h-10.67zM577.0 310.03h10.67v2.17h-10.67zM577.0 305.70h10.67v2.17h-10.67zM577.0 303.54h10.67v2.17h-10.67z" fill="#deeaf6"/>
<path d="M406.4 340.34h10.67v2.17h-10.67zM406.4 255.91h10.67v2.17h-10.67zM438.4 271.06h10.67v2.17h-10.67z" fill="#639cd5"/>
<path d="M406.4 338.18h10.67v2.17h-10.67zM449.0 271.06h10.67v2.17h-10.67zM481.0 286.22h10.67v2.17h-10.67z" fill="#72a5d8"/>
<path d="M406.4 333.85h10.67v2.17h-10.67zM417.0 325.19h10.67v2.17h-10.67zM417.0 275.39h10.67v2.17h-10.67zM449.0 268.89h10.67v2.17h-10.67zM470.4 333.85h10.67v2.17h-10.67zM470.4 286.22h10.67v2.17h-10.67zM491.7 316.52h10.67v2.17h-10.67zM502.4 303.54h10.67v2.17h-10.67zM502.4 294.88h10.67v2.17h-10.67z" fill="#b4cfea"/>
<path d="M406.4 329.51h10.67v2.17h-10.67zM406.4 266.73h10.67v2.17h-10.67z" fill="#84b1de"/>
<path d="M406.4 327.35h10.67v2.17h-10.67zM417.0 312.19h10.67v2.17h-10.67zM427.7 318.69h10.67v2.17h-10.67zM427.7 260.24h10.67v2.17h-10.67zM438.4 338.18h10.67v2.17h-10.67zM438.4 329.51h10.67v2.17h-10.67zM470.4 288.38h10.67v2.17h-10.67zM491.7 281.88h10.67v2.17h-10.67z" fill="#aecce7"/>
<path d="M406.4 318.69h10.67v2.17h-10.67zM406.4 275.39h10.67v2.17h-10.67zM417.0 329.51h10.67v2.17h-10.67zM427.7 340.34h10.67v2.17h-10.67zM438.4 301.37h10.67v2.17h-10.67zM449.0 338.18h10.67v2.17h-10.67zM449.0 316.52h10.67v2.17h-10.67zM449.0 275.39h10.67v2.17h-10.67zM459.7 342.50h10.67v2.17h-10.67zM470.4 331.68h10.67v2.17h-10.67zM481.0 292.71h10.67v2.17h-10.67zM491.7 307.87h10.67v2.17h-10.67zM502.4 297.04h10.67v2.17h-10.67zM534.4 316.52h10.67v2.17h-10.67zM534.4 314.36h10.67v2.17h-10.67z" fill="#c0d5ed"/>
<path d="M406.4 314.36h10.67v2.17h-10.67zM417.0 320.86h10.67v2.17h-10.67zM417.0 264.56h10.67v2.17h-10.67zM438.4 262.40h10.67v2.17h-10.67zM449.0 266.73h10.67v2.17h-10.67z" fill="#96bde1"/>
<path d="M406.4 312.19h10.67v2.17h-10.67zM406.4 271.06h10.67v2.17h-10.67zM417.0 323.02h10.67v2.17h-10.67zM427.7 314.36h10.67v2.17h-10.67zM427.7 279.72h10.67v2.17h-10.67zM449.0 288.38h10.67v2.17h-10.67zM502.4 290.55h10.67v2.17h-10.67zM545.0 312.19h10.67v2.17h-10.67z" fill="#b1ccea"/>
<path d="M406.4 307.87h10.67v2.17h-10.67zM406.4 292.71h10.67v2.17h-10.67zM417.0 253.74h10.67v2.17h-10.67zM427.7 342.50h10.67v2.17h-10.67zM427.7 331.68h10.67v2.17h-10.67zM427.7 305.70h10.67v2.17h-10.67zM438.4 344.67h10.67v2.17h-10.67zM438.4 310.03h10.67v2.17h-10.67zM438.4 292.71h10.67v2.17h-10.67zM534.4 307.87h10.67v2.17h-10.67z" fill="#abc9e7"/>
<path d="M406.4 305.70h10.67v2.17h-10.67zM406.4 303.54h10.67v2.17h-10.67zM406.4 286.22h10.67v2.17h-10.67zM406.4 277.56h10.67v2.17h-10.67zM427.7 338.18h10.67v2.17h-10.67zM438.4 314.36h10.67v2.17h-10.67zM438.4 299.21h10.67v2.17h-10.67zM459.7 314.36h10.67v2.17h-10.67zM459.7 292.71h10.67v2.17h-10.67zM491.7 299.21h10.67v2.17h-10.67z" fill="#c6d8ed"/>
<path d="M406.4 294.88h10.67v2.17h-10.67zM417.0 336.01h10.67v2.17h-10.67zM459.7 284.05h10.67v2.17h-10.67z" fill="#8db7e1"/>
<path d="M406.4 290.55h10.67v2.17h-10.67zM406.4 264.56h10.67v2.17h-10.67zM427.7 271.06h10.67v2.17h-10.67z" fill="#4884c9"/>
<path d="M406.4 284.05h10.67v2.17h-10.67zM417.0 247.25h10.67v2.17h-10.67zM427.7 329.51h10.67v2.17h-10.67zM427.7 307.87h10.67v2.17h-10.67zM438.4 327.35h10.67v2.17h-10.67zM438.4 320.86h10.67v2.17h-10.67zM449.0 327.35h10.67v2.17h-10.67zM449.0 310.03h10.67v2.17h-10.67zM459.7 331.68h10.67v2.17h-10.67zM470.4 340.34h10.67v2.17h-10.67zM470.4 327.35h10.67v2.17h-10.67zM470.4 301.37h10.67v2.17h-10.67zM481.0 333.85h10.67v2.17h-10.67zM481.0 312.19h10.67v2.17h-10.67zM491.7 245.08h10.67v2.17h-10.67zM523.7 331.68h10.67v2.17h-10.67zM523.7 307.87h10.67v2.17h-10.67zM534.4 329.51h10.67v2.17h-10.67zM534.4 323.02h10.67v2.17h-10.67zM534.4 320.86h10.67v2.17h-10.67zM545.0 327.35h10.67v2.17h-10.67zM545.0 323.02h10.67v2.17h-10.67zM545.0 242.92h10.67v2.17h-10.67zM555.7 323.02h10.67v2.17h-10.67z" fill="#d5e4f3"/>
<path d="M406.4 281.88h10.67v2.17h-10.67z" fill="#6ca2d8"/>
<path d="M406.4 268.89h10.67v2.17h-10.67zM449.0 325.19h10.67v2.17h-10.67z" fill="#b7d2ea"/>
<path d="M406.4 260.24h10.67v2.17h-10.67z" fill="#75a8d8"/>
<path d="M406.4 258.07h10.67v2.17h-10.67zM417.0 266.73h10.67v2.17h-10.67z" fill="#4b87cc"/>
<path d="M417.0 357.66h10.67v2.17h-10.67zM427.7 355.50h10.67v2.17h-10.67zM438.4 355.50h10.67v2.17h-10.67zM470.4 351.17h10.67v2.17h-10.67zM481.0 351.17h10.67v2.17h-10.67zM481.0 349.00h10.67v2.17h-10.67zM491.7 349.00h10.67v2.17h-10.67zM523.7 342.50h10.67v2.17h-10.67zM523.7 340.34h10.67v2.17h-10.67zM534.4 344.67h10.67v2.17h-10.67zM545.0 342.50h10.67v2.17h-10.67zM545.0 340.34h10.67v2.17h-10.67zM555.7 342.50h10.67v2.17h-10.67zM555.7 340.34h10.67v2.17h-10.67zM566.4 340.34h10.67v2.17h-10.67zM566.4 338.18h10.67v2.17h-10.67zM566.4 331.68h10.67v2.17h-10.67zM577.0 340.34h10.67v2.17h-10.67zM577.0 336.01h10.67v2.17h-10.67z" fill="#f0f6fc"/>
<path d="M417.0 351.17h10.67v2.17h-10.67zM470.4 338.18h10.67v2.17h-10.67zM470.4 320.86h10.67v2.17h-10.67zM470.4 292.71h10.67v2.17h-10.67zM481.0 318.69h10.67v2.17h-10.67zM513.0 333.85h10.67v2.17h-10.67zM523.7 292.71h10.67v2.17h-10.67zM534.4 310.03h10.67v2.17h-10.67zM534.4 301.37h10.67v2.17h-10.67zM545.0 325.19h10.67v2.17h-10.67zM545.0 299.21h10.67v2.17h-10.67zM577.0 329.51h10.67v2.17h-10.67z" fill="#e1eaf6"/>
<path d="M417.0 349.00h10.67v2.17h-10.67zM417.0 314.36h10.67v2.17h-10.67zM427.7 247.25h10.67v2.17h-10.67zM459.7 316.52h10.67v2.17h-10.67zM459.7 247.25h10.67v2.17h-10.67zM470.4 314.36h10.67v2.17h-10.67zM470.4 303.54h10.67v2.17h-10.67zM491.7 338.18h10.67v2.17h-10.67zM491.7 336.01h10.67v2.17h-10.67zM513.0 329.51h10.67v2.17h-10.67zM534.4 325.19h10.67v2.17h-10.67zM555.7 312.19h10.67v2.17h-10.67z" fill="#d8e4f3"/>
<path d="M417.0 346.84h10.67v2.17h-10.67zM438.4 303.54h10.67v2.17h-10.67zM449.0 314.36h10.67v2.17h-10.67zM459.7 275.39h10.67v2.17h-10.67z" fill="#aec9e7"/>
<path d="M417.0 344.67h10.67v2.17h-10.67zM417.0 281.88h10.67v2.17h-10.67zM417.0 268.89h10.67v2.17h-10.67zM481.0 301.37h10.67v2.17h-10.67z" fill="#b1cce7"/>
<path d="M417.0 338.18h10.67v2.17h-10.67zM427.7 262.40h10.67v2.17h-10.67zM438.4 281.88h10.67v2.17h-10.67z" fill="#5490cf"/>
<path d="M417.0 333.85h10.67v2.17h-10.67zM427.7 258.07h10.67v2.17h-10.67z" fill="#81b1de"/>
<path d="M417.0 331.68h10.67v2.17h-10.67z" fill="#75a8db"/>
<path d="M417.0 301.37h10.67v2.17h-10.67z" fill="#8ab7e1"/>
<path d="M417.0 294.88h10.67v2.17h-10.67zM417.0 262.40h10.67v2.17h-10.67zM427.7 312.19h10.67v2.17h-10.67zM427.7 299.21h10.67v2.17h-10.67zM427.7 277.56h10.67v2.17h-10.67zM427.7 268.89h10.67v2.17h-10.67zM438.4 325.19h10.67v2.17h-10.67zM438.4 284.05h10.67v2.17h-10.67zM459.7 288.38h10.67v2.17h-10.67zM481.0 290.55h10.67v2.17h-10.67zM481.0 279.72h10.67v2.17h-10.67zM502.4 301.37h10.67v2.17h-10.67z" fill="#a8c6e7"/>
<path d="M417.0 279.72h10.67v2.17h-10.67zM427.7 327.35h10.67v2.17h-10.67zM427.7 325.19h10.67v2.17h-10.67zM427.7 323.02h10.67v2.17h-10.67zM449.0 303.54h10.67v2.17h-10.67zM459.7 279.72h10.67v2.17h-10.67zM481.0 294.88h10.67v2.17h-10.67zM491.7 329.51h10.67v2.17h-10.67z" fill="#cfe1f0"/>
<path d="M417.0 277.56h10.67v2.17h-10.67zM470.4 281.88h10.67v2.17h-10.67z" fill="#78abdb"/>
<path d="M427.7 316.52h10.67v2.17h-10.67z" fill="#6fa5d8"/>
<path d="M427.7 275.39h10.67v2.17h-10.67z" fill="#9fc3e4"/>
<path d="M427.7 266.73h10.67v2.17h-10.67z" fill="#7babdb"/>
<path d="M427.7 255.91h10.67v2.17h-10.67zM438.4 351.17h10.67v2.17h-10.67zM449.0 277.56h10.67v2.17h-10.67zM449.0 258.07h10.67v2.17h-10.67zM449.0 255.91h10.67v2.17h-10.67zM459.7 268.89h10.67v2.17h-10.67zM470.4 336.01h10.67v2.17h-10.67zM470.4 271.06h10.67v2.17h-10.67zM470.4 268.89h10.67v2.17h-10.67zM470.4 266.73h10.67v2.17h-10.67zM481.0 325.19h10.67v2.17h-10.67zM481.0 316.52h10.67v2.17h-10.67zM481.0 314.36h10.67v2.17h-10.67zM491.7 331.68h10.67v2.17h-10.67zM491.7 327.35h10.67v2.17h-10.67zM491.7 271.06h10.67v2.17h-10.67zM491.7 268.89h10.67v2.17h-10.67zM502.4 333.85h10.67v2.17h-10.67zM502.4 331.68h10.67v2.17h-10.67zM502.4 327.35h10.67v2.17h-10.67zM513.0 320.86h10.67v2.17h-10.67zM513.0 316.52h10.67v2.17h-10.67zM523.7 327.35h10.67v2.17h-10.67zM523.7 316.52h10.67v2.17h-10.67zM523.7 310.03h10.67v2.17h-10.67zM523.7 288.38h10.67v2.17h-10.67zM534.4 303.54h10.67v2.17h-10.67zM534.4 253.74h10.67v2.17h-10.67zM545.0 331.68h10.67v2.17h-10.67zM545.0 320.86h10.67v2.17h-10.67zM545.0 318.69h10.67v2.17h-10.67zM545.0 307.87h10.67v2.17h-10.67zM545.0 301.37h10.67v2.17h-10.67zM545.0 294.88h10.67v2.17h-10.67zM555.7 329.51h10.67v2.17h-10.67zM555.7 318.69h10.67v2.17h-10.67zM555.7 305.70h10.67v2.17h-10.67zM566.4 314.36h10.67v2.17h-10.67zM566.4 307.87h10.67v2.17h-10.67zM566.4 303.54h10.67v2.17h-10.67zM566.4 299.21h10.67v2.17h-10.67zM577.0 323.02h10.67v2.17h-10.67zM577.0 301.37h10.67v2.17h-10.67z" fill="#e4edf9"/>
<path d="M438.4 349.00h10.67v2.17h-10.67zM449.0 346.84h10.67v2.17h-10.67zM459.7 264.56h10.67v2.17h-10.67zM459.7 258.07h10.67v2.17h-10.67zM470.4 273.23h10.67v2.17h-10.67zM470.4 255.91h10.67v2.17h-10.67zM481.0 277.56h10.67v2.17h-10.67zM481.0 275.39h10.67v2.17h-10.67zM491.7 277.56h10.67v2.17h-10.67zM513.0 336.01h10.67v2.17h-10.67zM545.0 297.04h10.67v2.17h-10.67zM555.7 336.01h10.67v2.17h-10.67zM555.7 299.21h10.67v2.17h-10.67zM555.7 251.58h10.67v2.17h-10.67zM577.0 251.58h10.67v2.17h-10.67z" fill="#eaf0f9"/>
<path d="M438.4 307.87h10.67v2.17h-10.67z" fill="#4581c9"/>
<path d="M438.4 275.39h10.67v2.17h-10.67zM438.4 273.23h10.67v2.17h-10.67z" fill="#699fd5"/>
<path d="M438.4 266.73h10.67v2.17h-10.67z" fill="#6099d2"/>
<path d="M438.4 264.56h10.67v2.17h-10.67z" fill="#6fa2d8"/>
<path d="M438.4 258.07h10.67v2.17h-10.67z" fill="#427ec6"/>
<path d="M449.0 264.56h10.67v2.17h-10.67z" fill="#3f78c6"/>
<path d="M449.0 260.24h10.67v2.17h-10.67z" fill="#93bde1"/>
<path d="M449.0 253.74h10.67v2.17h-10.67zM459.7 266.73h10.67v2.17h-10.67zM481.0 327.35h10.67v2.17h-10.67zM481.0 297.04h10.67v2.17h-10.67zM491.7 342.50h10.67v2.17h-10.67zM491.7 333.85h10.67v2.17h-10.67zM491.7 275.39h10.67v2.17h-10.67zM491.7 273.23h10.67v2.17h-10.67zM502.4 323.02h10.67v2.17h-10.67zM502.4 320.86h10.67v2.17h-10.67zM502.4 307.87h10.67v2.17h-10.67zM502.4 279.72h10.67v2.17h-10.67zM513.0 318.69h10.67v2.17h-10.67zM513.0 310.03h10.67v2.17h-10.67zM513.0 286.22h10.67v2.17h-10.67zM513.0 284.05h10.67v2.17h-10.67zM566.4 325.19h10.67v2.17h-10.67zM566.4 301.37h10.67v2.17h-10.67z" fill="#e1edf6"/>
<path d="M459.7 303.54h10.67v2.17h-10.67z" fill="#a5c6e4"/>
<path d="M459.7 281.88h10.67v2.17h-10.67z" fill="#90b7e1"/>
<path d="M459.7 273.23h10.67v2.17h-10.67z" fill="#3c78c3"/>
<path d="M470.4 290.55h10.67v2.17h-10.67z" fill="#518dcf"/>
<path d="M470.4 279.72h10.67v2.17h-10.67z" fill="#5793d2"/>
<path d="M481.0 299.21h10.67v2.17h-10.67zM555.7 310.03h10.67v2.17h-10.67zM566.4 320.86h10.67v2.17h-10.67z" fill="#d5e1f3"/>
<path d="M513.0 346.84h10.67v2.17h-10.67zM566.4 316.52h10.67v2.17h-10.67zM577.0 333.85h10.67v2.17h-10.67z" fill="#edf6fc"/>
<path d="M513.0 312.19h10.67v2.17h-10.67zM534.4 336.01h10.67v2.17h-10.67zM534.4 297.04h10.67v2.17h-10.67zM577.0 331.68h10.67v2.17h-10.67z" fill="#e4f0f9"/>
<path d="M577.0 342.50h10.67v2.17h-10.67z" fill="#f3f6fc"/>
<line x1="395.7" y1="345.3" x2="587.7" y2="332.3" stroke="#40ee10" stroke-width="2.0" stroke-dasharray="7.2,3.66"/>
<path d="M407.40,210.3 L411.80,206.80 L410.80,209.50 L415.40,209.50 L415.40,211.10 L410.80,211.10 L411.80,213.80 Z" fill="#a0102a"/>
<path d="M418.07,210.3 L422.47,206.80 L421.47,209.50 L426.07,209.50 L426.07,211.10 L421.47,211.10 L422.47,213.80 Z" fill="#a0102a"/>
<path d="M428.73,210.3 L433.13,206.80 L432.13,209.50 L436.73,209.50 L436.73,211.10 L432.13,211.10 L433.13,213.80 Z" fill="#a0102a"/>
<path d="M439.40,210.3 L443.80,206.80 L442.80,209.50 L447.40,209.50 L447.40,211.10 L442.80,211.10 L443.80,213.80 Z" fill="#a0102a"/>
<path d="M450.07,210.3 L454.47,206.80 L453.47,209.50 L458.07,209.50 L458.07,211.10 L453.47,211.10 L454.47,213.80 Z" fill="#a0102a"/>
<path d="M460.73,210.3 L465.13,206.80 L464.13,209.50 L468.73,209.50 L468.73,211.10 L464.13,211.10 L465.13,213.80 Z" fill="#a0102a"/>
<path d="M471.40,210.3 L475.80,206.80 L474.80,209.50 L479.40,209.50 L479.40,211.10 L474.80,211.10 L475.80,213.80 Z" fill="#a0102a"/>
<path d="M482.07,210.3 L486.47,206.80 L485.47,209.50 L490.07,209.50 L490.07,211.10 L485.47,211.10 L486.47,213.80 Z" fill="#a0102a"/>
<path d="M492.73,210.3 L497.13,206.80 L496.13,209.50 L500.73,209.50 L500.73,211.10 L496.13,211.10 L497.13,213.80 Z" fill="#a0102a"/>
<path d="M503.40,210.3 L507.80,206.80 L506.80,209.50 L511.40,209.50 L511.40,211.10 L506.80,211.10 L507.80,213.80 Z" fill="#a0102a"/>
<path d="M514.07,210.3 L518.47,206.80 L517.47,209.50 L522.07,209.50 L522.07,211.10 L517.47,211.10 L518.47,213.80 Z" fill="#a0102a"/>
<path d="M524.73,210.3 L529.13,206.80 L528.13,209.50 L532.73,209.50 L532.73,211.10 L528.13,211.10 L529.13,213.80 Z" fill="#a0102a"/>
<path d="M535.40,210.3 L539.80,206.80 L538.80,209.50 L543.40,209.50 L543.40,211.10 L538.80,211.10 L539.80,213.80 Z" fill="#a0102a"/>
<path d="M546.07,210.3 L550.47,206.80 L549.47,209.50 L554.07,209.50 L554.07,211.10 L549.47,211.10 L550.47,213.80 Z" fill="#a0102a"/>
<path d="M556.73,210.3 L561.13,206.80 L560.13,209.50 L564.73,209.50 L564.73,211.10 L560.13,211.10 L561.13,213.80 Z" fill="#a0102a"/>
<path d="M567.40,210.3 L571.80,206.80 L570.80,209.50 L575.40,209.50 L575.40,211.10 L570.80,211.10 L571.80,213.80 Z" fill="#a0102a"/>
<path d="M578.07,210.3 L582.47,206.80 L581.47,209.50 L586.07,209.50 L586.07,211.10 L581.47,211.10 L582.47,213.80 Z" fill="#a0102a"/>
<path d="M404.43,385.3 L400.03,381.80 L401.03,384.50 L396.43,384.50 L396.43,386.10 L401.03,386.10 L400.03,388.80 Z" fill="#73af14"/>
<path d="M415.10,385.3 L410.70,381.80 L411.70,384.50 L407.10,384.50 L407.10,386.10 L411.70,386.10 L410.70,388.80 Z" fill="#73af14"/>
<path d="M425.77,385.3 L421.37,381.80 L422.37,384.50 L417.77,384.50 L417.77,386.10 L422.37,386.10 L421.37,388.80 Z" fill="#73af14"/>
<path d="M436.43,385.3 L432.03,381.80 L433.03,384.50 L428.43,384.50 L428.43,386.10 L433.03,386.10 L432.03,388.80 Z" fill="#73af14"/>
<path d="M447.10,385.3 L442.70,381.80 L443.70,384.50 L439.10,384.50 L439.10,386.10 L443.70,386.10 L442.70,388.80 Z" fill="#73af14"/>
<path d="M457.77,385.3 L453.37,381.80 L454.37,384.50 L449.77,384.50 L449.77,386.10 L454.37,386.10 L453.37,388.80 Z" fill="#73af14"/>
<path d="M468.43,385.3 L464.03,381.80 L465.03,384.50 L460.43,384.50 L460.43,386.10 L465.03,386.10 L464.03,388.80 Z" fill="#73af14"/>
<path d="M479.10,385.3 L474.70,381.80 L475.70,384.50 L471.10,384.50 L471.10,386.10 L475.70,386.10 L474.70,388.80 Z" fill="#73af14"/>
<path d="M489.77,385.3 L485.37,381.80 L486.37,384.50 L481.77,384.50 L481.77,386.10 L486.37,386.10 L485.37,388.80 Z" fill="#73af14"/>
<path d="M500.43,385.3 L496.03,381.80 L497.03,384.50 L492.43,384.50 L492.43,386.10 L497.03,386.10 L496.03,388.80 Z" fill="#73af14"/>
<path d="M511.10,385.3 L506.70,381.80 L507.70,384.50 L503.10,384.50 L503.10,386.10 L507.70,386.10 L506.70,388.80 Z" fill="#73af14"/>
<path d="M521.77,385.3 L517.37,381.80 L518.37,384.50 L513.77,384.50 L513.77,386.10 L518.37,386.10 L517.37,388.80 Z" fill="#73af14"/>
<path d="M532.43,385.3 L528.03,381.80 L529.03,384.50 L524.43,384.50 L524.43,386.10 L529.03,386.10 L528.03,388.80 Z" fill="#73af14"/>
<path d="M543.10,385.3 L538.70,381.80 L539.70,384.50 L535.10,384.50 L535.10,386.10 L539.70,386.10 L538.70,388.80 Z" fill="#73af14"/>
<path d="M553.77,385.3 L549.37,381.80 L550.37,384.50 L545.77,384.50 L545.77,386.10 L550.37,386.10 L549.37,388.80 Z" fill="#73af14"/>
<path d="M564.43,385.3 L560.03,381.80 L561.03,384.50 L556.43,384.50 L556.43,386.10 L561.03,386.10 L560.03,388.80 Z" fill="#73af14"/>
<path d="M575.10,385.3 L570.70,381.80 L571.70,384.50 L567.10,384.50 L567.10,386.10 L571.70,386.10 L570.70,388.80 Z" fill="#73af14"/>
<path d="M585.77,385.3 L581.37,381.80 L582.37,384.50 L577.77,384.50 L577.77,386.10 L582.37,386.10 L581.37,388.80 Z" fill="#73af14"/>
<path d="M401.8,218.2 L401.8,243.7 L403.5,245.8 L408.5,245.8 L410.6,247.9 L409.9,250.7 L403.5,251.5 L401.4,252.2 L409.2,252.9 L420.5,253.6 L430.4,256.4 L441.7,258.5 L451.7,260.7 L463.0,262.1 L465.8,263.5 L465.8,272.0 L470.1,270.6 L471.5,273.4 L474.3,276.2 L482.8,277.7 L491.3,280.5 L496.7,280.5 L505.2,283.3 L508.0,289.0 L516.5,289.7 L519.3,293.2 L527.8,294.0 L531.4,298.2 L533.5,299.5 L539.9,303.8 L549.8,305.2" fill="none" stroke="#e5b200" stroke-width="3.6" stroke-linejoin="round" stroke-linecap="round"/>
<rect x="395.7" y="204" width="192.0" height="188.3" fill="none" stroke="#1a1a1a" stroke-width="1.6"/>
<path d="M395.7,392.3 h3.5 M587.7,392.3 h-3.5" stroke="#1a1a1a" stroke-width="1.3"/>
<g transform="translate(376.52,398.74) scale(1.1765,1.0510)"><text font-size="18" >0</text></g>
<path d="M395.7,349.0 h3.5 M587.7,349.0 h-3.5" stroke="#1a1a1a" stroke-width="1.3"/>
<g transform="translate(376.81,355.57) scale(1.1765,1.0510)"><text font-size="18" >2</text></g>
<path d="M395.7,305.7 h3.5 M587.7,305.7 h-3.5" stroke="#1a1a1a" stroke-width="1.3"/>
<g transform="translate(376.22,312.14) scale(1.1765,1.0510)"><text font-size="18" >4</text></g>
<path d="M395.7,262.4 h3.5 M587.7,262.4 h-3.5" stroke="#1a1a1a" stroke-width="1.3"/>
<g transform="translate(376.52,268.84) scale(1.1765,1.0510)"><text font-size="18" >6</text></g>
<path d="M395.7,219.1 h3.5 M587.7,219.1 h-3.5" stroke="#1a1a1a" stroke-width="1.3"/>
<g transform="translate(376.52,225.54) scale(1.1765,1.0510)"><text font-size="18" >8</text></g>
<path d="M401.0,392.3 v-3.5 M401.0,204 v3.5" stroke="#1a1a1a" stroke-width="1.3"/>
<g transform="translate(395.70,414.60) scale(1.0167,1.0196)"><text font-size="18" >1</text></g>
<path d="M486.4,392.3 v-3.5 M486.4,204 v3.5" stroke="#1a1a1a" stroke-width="1.3"/>
<g transform="translate(481.28,414.60) scale(1.0167,1.0196)"><text font-size="18" >9</text></g>
<path d="M582.4,392.3 v-3.5 M582.4,204 v3.5" stroke="#1a1a1a" stroke-width="1.3"/>
<g transform="translate(571.95,414.60) scale(1.0167,1.0196)"><text font-size="18" >18</text></g>
<g transform="translate(427.94,438.00) scale(1.0752,0.9887)"><text font-size="18">Rotor Index <tspan font-style="italic">n</tspan></text></g>
<g transform="translate(364.33,313.31) rotate(-90) scale(1.0138,1.0448)"><text font-size="18"><tspan font-style="italic">t</tspan> (s)</text></g>
<g transform="translate(678.90,303.74) rotate(-90) scale(0.9808,1.0380)"><text font-size="18"><tspan font-style="italic">E&#771;</tspan><tspan font-style="italic" font-size="13" dy="4">n</tspan></text></g>
<rect x="603.7" y="204" width="20.3" height="188.3" fill="url(#cb)" stroke="#1a1a1a" stroke-width="1.6"/>
<g transform="translate(630.65,398.83) scale(1.0695,1.0667)"><text font-size="18" >0</text></g>
<path d="M624.0,345.2 h-3" stroke="#1a1a1a" stroke-width="1.3"/>
<g transform="translate(630.65,351.76) scale(1.0695,1.0667)"><text font-size="18" >0.1</text></g>
<path d="M624.0,298.1 h-3" stroke="#1a1a1a" stroke-width="1.3"/>
<g transform="translate(630.65,304.68) scale(1.0695,1.0667)"><text font-size="18" >0.2</text></g>
<path d="M624.0,251.1 h-3" stroke="#1a1a1a" stroke-width="1.3"/>
<g transform="translate(630.65,257.61) scale(1.0695,1.0667)"><text font-size="18" >0.3</text></g>
<g transform="translate(630.65,210.53) scale(1.0695,1.0667)"><text font-size="18" >0.4</text></g>
<g transform="translate(-1.02,485.91) scale(1.0256,0.9684)"><text font-size="19.5" font-weight="bold">d</text></g>
<line x1="88.9" y1="481.2" x2="88.9" y2="727.4" stroke="#d0d0d0" stroke-width="1" stroke-dasharray="1,2"/>
<line x1="164.6" y1="481.2" x2="164.6" y2="727.4" stroke="#d0d0d0" stroke-width="1" stroke-dasharray="1,2"/>
<line x1="240.3" y1="481.2" x2="240.3" y2="727.4" stroke="#d0d0d0" stroke-width="1" stroke-dasharray="1,2"/>
<line x1="316.0" y1="481.2" x2="316.0" y2="727.4" stroke="#d0d0d0" stroke-width="1" stroke-dasharray="1,2"/>
<line x1="391.6" y1="481.2" x2="391.6" y2="727.4" stroke="#d0d0d0" stroke-width="1" stroke-dasharray="1,2"/>
<line x1="467.3" y1="481.2" x2="467.3" y2="727.4" stroke="#d0d0d0" stroke-width="1" stroke-dasharray="1,2"/>
<line x1="517.8" y1="481.2" x2="517.8" y2="727.4" stroke="#d0d0d0" stroke-width="1" stroke-dasharray="1,2"/>
<line x1="76.3" y1="645.3" x2="530.4" y2="645.3" stroke="#d0d0d0" stroke-width="1" stroke-dasharray="1,2"/>
<line x1="76.3" y1="563.3" x2="530.4" y2="563.3" stroke="#d0d0d0" stroke-width="1" stroke-dasharray="1,2"/>
<line x1="88.9" y1="720.4" x2="530.4" y2="695.8" stroke="#40ee10" stroke-width="2.0" stroke-dasharray="7.2,3.66"/>
<path d="M89.0,505.5 L111.0,506.1 L113.4,509.0 L135.6,510.2 L140.2,516.6 L163.0,518.4 L167.5,521.3 L185.0,523.0 L189.7,528.3 L196.7,530.0 L214.2,531.2 L218.9,533.5 L238.0,535.0 L242.7,541.6 L262.5,543.4 L267.2,548.6 L288.2,549.8 L292.9,559.1 L305.0,561.5 L315.5,563.9 L317.9,567.4 L337.7,568.5 L341.2,573.2 L362.2,576.4 L365.7,581.7 L370.4,591.0 L389.5,592.5 L390.7,594.3 L394.2,608.3 L412.9,609.5 L416.4,612.4 L418.7,624.0 L419.9,629.9 L437.0,634.0 L441.0,638.0 L441.5,645.0" fill="none" stroke="#4285f5" stroke-width="3.4" stroke-linejoin="round" stroke-linecap="round"/>
<path d="M90.0,505.0 L104.0,505.0" fill="none" stroke="#4285f5" stroke-width="3.4" stroke-linecap="round"/>
<path d="M100.0,503.8 L110.0,504.5" fill="none" stroke="#4285f5" stroke-width="3.4" stroke-linecap="round"/>
<path d="M241.5,514.5 L263.7,516.3 L267.2,522.7 L288.2,523.9 L291.7,534.4 L294.0,540.0 L298.0,547.0 L315.5,548.7 L316.7,553.4 L318.4,565.0 L321.4,567.4 L340.0,569.0 L343.5,577.0 L362.2,579.0 L366.0,585.0 L368.0,600.7 L389.5,601.9 L392.4,610.0 L393.0,624.0 L414.0,626.0 L417.0,632.0 L437.0,636.0 L441.5,640.0 L442.0,645.0" fill="none" stroke="#2d64eb" stroke-width="3.4" stroke-linejoin="round" stroke-linecap="round"/>
<path d="M241.5,505.2 L262.5,502.8" fill="none" stroke="#2d64eb" stroke-width="3.4" stroke-linecap="round"/>
<path d="M241.5,508.5 L256.0,507.5" fill="none" stroke="#2d64eb" stroke-width="3.4" stroke-linecap="round"/>
<path d="M246.0,501.3 L262.0,502.0" fill="none" stroke="#2d64eb" stroke-width="3.4" stroke-linecap="round"/>
<path d="M241.5,511.5 L250.0,511.0" fill="none" stroke="#2d64eb" stroke-width="3.4" stroke-linecap="round"/>
<path d="M298.0,536.0 L313.0,538.0" fill="none" stroke="#2d64eb" stroke-width="3.4" stroke-linecap="round"/>
<path d="M298.0,540.0 L311.0,541.0" fill="none" stroke="#2d64eb" stroke-width="3.4" stroke-linecap="round"/>
<path d="M298.0,543.5 L306.0,544.5" fill="none" stroke="#2d64eb" stroke-width="3.4" stroke-linecap="round"/>
<path d="M294.0,538.0 L304.0,539.0" fill="none" stroke="#2d64eb" stroke-width="3.4" stroke-linecap="round"/>
<path d="M88.0,510.0 L90.0,520.1 L96.0,522.4 L111.0,523.6 L114.5,526.0 L136.7,527.1 L140.2,530.0 L161.7,531.7 L164.5,532.4 L187.4,534.0 L190.9,541.0 L196.7,543.4 L199.0,546.9 L213.0,548.0 L216.5,549.5 L239.5,551.0 L242.5,551.5 L263.0,553.4 L266.0,557.4 L288.2,559.7 L292.0,566.7 L314.0,568.0 L317.9,573.2 L338.9,577.0 L342.4,581.7 L362.2,584.0 L368.0,599.2 L389.5,601.9 L392.4,610.0 L393.0,622.0 L414.0,624.0 L417.5,632.0 L420.6,638.9 L438.6,640.8 L441.5,645.0" fill="none" stroke="#643cdc" stroke-width="3.4" stroke-linejoin="round" stroke-linecap="round"/>
<path d="M88.0,502.0 L111.0,504.0" fill="none" stroke="#643cdc" stroke-width="3.4" stroke-linecap="round"/>
<path d="M88.0,506.0 L111.0,507.5" fill="none" stroke="#643cdc" stroke-width="3.4" stroke-linecap="round"/>
<path d="M92.0,509.0 L108.0,509.5" fill="none" stroke="#643cdc" stroke-width="3.4" stroke-linecap="round"/>
<path d="M196.7,545.0 L213.0,546.0" fill="none" stroke="#643cdc" stroke-width="3.4" stroke-linecap="round"/>
<path d="M372.0,600.0 L383.0,602.0" fill="none" stroke="#643cdc" stroke-width="3.4" stroke-linecap="round"/>
<path d="M372.0,604.0 L383.0,606.0" fill="none" stroke="#643cdc" stroke-width="3.4" stroke-linecap="round"/>
<path d="M372.0,608.0 L380.0,609.0" fill="none" stroke="#643cdc" stroke-width="3.4" stroke-linecap="round"/>
<path d="M190.0,555.0 L206.0,554.5 L191.0,558.0 L190.9,561.5 L214.2,562.6 L217.7,566.7 L238.0,570.6 L241.5,576.0 L263.7,577.8 L266.0,580.7 L288.0,582.5 L291.5,588.0 L313.0,590.0 L317.0,596.0 L339.0,598.0 L342.5,606.0 L364.0,608.0 L367.0,620.0 L389.0,622.0 L393.0,633.2 L404.5,636.1 L414.0,639.0 L415.9,645.5" fill="none" stroke="#8728c8" stroke-width="3.4" stroke-linejoin="round" stroke-linecap="round"/>
<path d="M191.0,553.0 L206.0,552.5" fill="none" stroke="#8728c8" stroke-width="3.4" stroke-linecap="round"/>
<path d="M191.0,557.0 L200.0,557.5" fill="none" stroke="#8728c8" stroke-width="3.4" stroke-linecap="round"/>
<path d="M196.7,545.0 L210.0,546.0" fill="none" stroke="#8728c8" stroke-width="3.4" stroke-linecap="round"/>
<path d="M196.7,548.0 L212.0,549.0" fill="none" stroke="#8728c8" stroke-width="3.4" stroke-linecap="round"/>
<path d="M87.7,500.8 L87.7,526.5 L83.0,526.0 L88.0,527.7 L113.4,528.9 L116.3,535.3 L137.9,536.5 L140.2,540.0 L161.7,541.0 L165.2,546.9 L187.4,548.0 L190.9,552.1 L214.2,553.3 L217.7,556.8 L238.0,558.0 L241.5,563.2 L263.7,564.4 L266.0,571.4 L288.2,573.7 L291.7,577.2 L313.5,578.6 L317.0,588.0 L339.0,589.5 L342.5,598.0 L364.0,600.0 L367.0,612.0 L389.0,613.5 L392.0,632.0 L414.9,641.7 L416.8,645.5" fill="none" stroke="#aa00aa" stroke-width="3.4" stroke-linejoin="round" stroke-linecap="round"/>
<path d="M139.0,501.4 L141.4,504.3 L161.7,505.5 L166.4,508.4 L185.0,509.6 L188.5,512.5 L192.0,517.8 L196.7,519.5 L211.9,522.4 L205.0,524.0 L193.0,525.4 L205.0,526.0 L214.0,530.0 L217.7,535.9 L239.0,538.5 L242.5,542.5 L263.0,544.5 L266.5,550.0 L289.0,552.5 L292.5,559.0 L298.0,575.5 L313.2,577.5 L317.9,584.0 L338.9,587.5 L342.4,594.5 L362.2,596.9 L366.0,606.0 L389.5,611.0 L392.0,620.0 L414.0,623.2 L417.8,630.4 L437.7,635.1 L442.4,639.8 L442.4,645.0" fill="none" stroke="#cd008c" stroke-width="3.4" stroke-linejoin="round" stroke-linecap="round"/>
<path d="M222.0,540.0 L232.0,541.0" fill="none" stroke="#cd008c" stroke-width="3.4" stroke-linecap="round"/>
<path d="M224.0,543.0 L230.0,543.5" fill="none" stroke="#cd008c" stroke-width="3.4" stroke-linecap="round"/>
<path d="M88.4,502.0 L88.4,516.2 L111.4,517.3 L114.5,520.5 L137.0,522.5 L140.5,525.8 L162.8,527.5 L166.4,534.1 L188.5,535.3 L190.9,538.8 L213.1,540.5 L216.6,546.5 L239.2,548.0 L243.9,553.3 L262.5,555.0 L266.0,559.7 L267.2,571.4 L288.2,573.7 L291.5,591.0 L314.4,593.4 L316.7,598.0 L338.9,600.4 L342.4,609.7 L363.4,612.0 L366.9,621.4 L389.0,623.2 L393.0,628.5 L414.0,630.4 L418.7,643.6 L420.6,645.2 L430.1,645.2" fill="none" stroke="#eb006e" stroke-width="3.4" stroke-linejoin="round" stroke-linecap="round"/>
<path d="M76.0,507.8 L100.0,510.5 L110.0,512.3 L113.5,515.0 L117.0,519.3 L125.0,520.3 L136.5,521.9 L141.0,524.4 L163.0,526.1 L166.5,528.4 L186.0,530.0 L191.0,533.0 L213.0,534.1 L217.0,537.2 L239.5,538.3 L243.0,544.0 L262.5,545.2 L266.0,560.3 L288.5,561.5 L292.0,569.3 L314.5,570.5 L318.0,577.5 L338.0,579.3 L342.0,586.0 L362.5,587.5 L366.5,607.4 L389.5,612.4 L392.0,621.7 L414.0,622.9 L417.5,629.9 L437.4,634.0 L441.5,638.0 L442.5,645.0" fill="none" stroke="#f50046" stroke-width="3.4" stroke-linejoin="round" stroke-linecap="round"/>
<path d="M242.0,549.5 L263.0,550.5" fill="none" stroke="#f50046" stroke-width="3.4" stroke-linecap="round"/>
<path d="M244.0,553.0 L262.0,554.5" fill="none" stroke="#f50046" stroke-width="3.4" stroke-linecap="round"/>
<path d="M248.0,556.5 L263.0,557.5" fill="none" stroke="#f50046" stroke-width="3.4" stroke-linecap="round"/>
<rect x="76.3" y="481.2" width="454.1" height="246.2" fill="none" stroke="#1a1a1a" stroke-width="1.7"/>
<path d="M76.3,727.4 h5 M530.4,727.4 h-5" stroke="#1a1a1a" stroke-width="1.5"/>
<g transform="translate(57.84,733.77) scale(1.1152,1.0400)"><text font-size="17.5" >2</text></g>
<path d="M76.3,645.3 h5 M530.4,645.3 h-5" stroke="#1a1a1a" stroke-width="1.5"/>
<g transform="translate(57.28,651.57) scale(1.1152,1.0400)"><text font-size="17.5" >4</text></g>
<path d="M76.3,563.3 h5 M530.4,563.3 h-5" stroke="#1a1a1a" stroke-width="1.5"/>
<g transform="translate(57.56,569.51) scale(1.1152,1.0400)"><text font-size="17.5" >6</text></g>
<path d="M76.3,481.2 h5 M530.4,481.2 h-5" stroke="#1a1a1a" stroke-width="1.5"/>
<g transform="translate(57.56,487.44) scale(1.1152,1.0400)"><text font-size="17.5" >8</text></g>
<path d="M88.9,727.4 v-5 M88.9,481.2 v5" stroke="#1a1a1a" stroke-width="1.5"/>
<g transform="translate(83.67,750.81) scale(1.0229,0.9680)"><text font-size="17.5" >1</text></g>
<path d="M164.6,727.4 v-5 M164.6,481.2 v5" stroke="#1a1a1a" stroke-width="1.5"/>
<g transform="translate(159.61,750.81) scale(1.0229,0.9680)"><text font-size="17.5" >4</text></g>
<path d="M240.3,727.4 v-5 M240.3,481.2 v5" stroke="#1a1a1a" stroke-width="1.5"/>
<g transform="translate(235.29,750.81) scale(1.0229,0.9680)"><text font-size="17.5" >7</text></g>
<path d="M316.0,727.4 v-5 M316.0,481.2 v5" stroke="#1a1a1a" stroke-width="1.5"/>
<g transform="translate(305.74,750.81) scale(1.0229,0.9680)"><text font-size="17.5" >10</text></g>
<path d="M391.6,727.4 v-5 M391.6,481.2 v5" stroke="#1a1a1a" stroke-width="1.5"/>
<g transform="translate(381.42,750.81) scale(1.0229,0.9680)"><text font-size="17.5" >13</text></g>
<path d="M467.3,727.4 v-5 M467.3,481.2 v5" stroke="#1a1a1a" stroke-width="1.5"/>
<g transform="translate(457.10,750.81) scale(1.0229,0.9680)"><text font-size="17.5" >16</text></g>
<path d="M517.8,727.4 v-5 M517.8,481.2 v5" stroke="#1a1a1a" stroke-width="1.5"/>
<g transform="translate(507.56,750.81) scale(1.0229,0.9680)"><text font-size="17.5" >18</text></g>
<g transform="translate(247.65,773.90) scale(1.0686,1.0038)"><text font-size="18">Rotor Index <tspan font-style="italic">n</tspan></text></g>
<g transform="translate(40.52,620.42) rotate(-90) scale(1.0207,1.0746)"><text font-size="18"><tspan font-style="italic">t</tspan> (s)</text></g>
<g transform="translate(413.11,510.41) scale(1.0394,0.9673)"><text font-size="18.5" >Simulations</text></g>
<g transform="translate(564.53,553.50) scale(1.0421,0.8759)"><text font-size="15.5"><tspan font-style="italic">&#964;</tspan><tspan font-style="italic" font-size="11" dy="3">0</tspan><tspan dy="-3"> (mN m)</tspan></text></g>
<line x1="572.3" y1="570.3" x2="585.9" y2="570.3" stroke="#4285f5" stroke-width="3.2"/>
<g transform="translate(589.72,574.50) scale(1.0323,0.9333)"><text font-size="13" >15.25</text></g>
<line x1="572.3" y1="585.9" x2="585.9" y2="585.9" stroke="#2d64eb" stroke-width="3.2"/>
<g transform="translate(589.72,590.10) scale(1.0323,0.9333)"><text font-size="13" >15.5</text></g>
<line x1="572.3" y1="601.5" x2="585.9" y2="601.5" stroke="#643cdc" stroke-width="3.2"/>
<g transform="translate(589.72,605.70) scale(1.0323,0.9333)"><text font-size="13" >15.75</text></g>
<line x1="572.3" y1="617.1" x2="585.9" y2="617.1" stroke="#8728c8" stroke-width="3.2"/>
<g transform="translate(589.72,621.30) scale(1.0323,0.9333)"><text font-size="13" >16</text></g>
<line x1="572.3" y1="632.7" x2="585.9" y2="632.7" stroke="#aa00aa" stroke-width="3.2"/>
<g transform="translate(589.72,636.90) scale(1.0323,0.9333)"><text font-size="13" >16.25</text></g>
<line x1="572.3" y1="648.3" x2="585.9" y2="648.3" stroke="#cd008c" stroke-width="3.2"/>
<g transform="translate(589.72,652.50) scale(1.0323,0.9333)"><text font-size="13" >16.5</text></g>
<line x1="572.3" y1="663.9" x2="585.9" y2="663.9" stroke="#eb006e" stroke-width="3.2"/>
<g transform="translate(589.72,668.10) scale(1.0323,0.9333)"><text font-size="13" >16.75</text></g>
<line x1="572.3" y1="679.5" x2="585.9" y2="679.5" stroke="#f50046" stroke-width="3.2"/>
<g transform="translate(589.72,683.70) scale(1.0323,0.9333)"><text font-size="13" >17</text></g>
</svg></body></html>
